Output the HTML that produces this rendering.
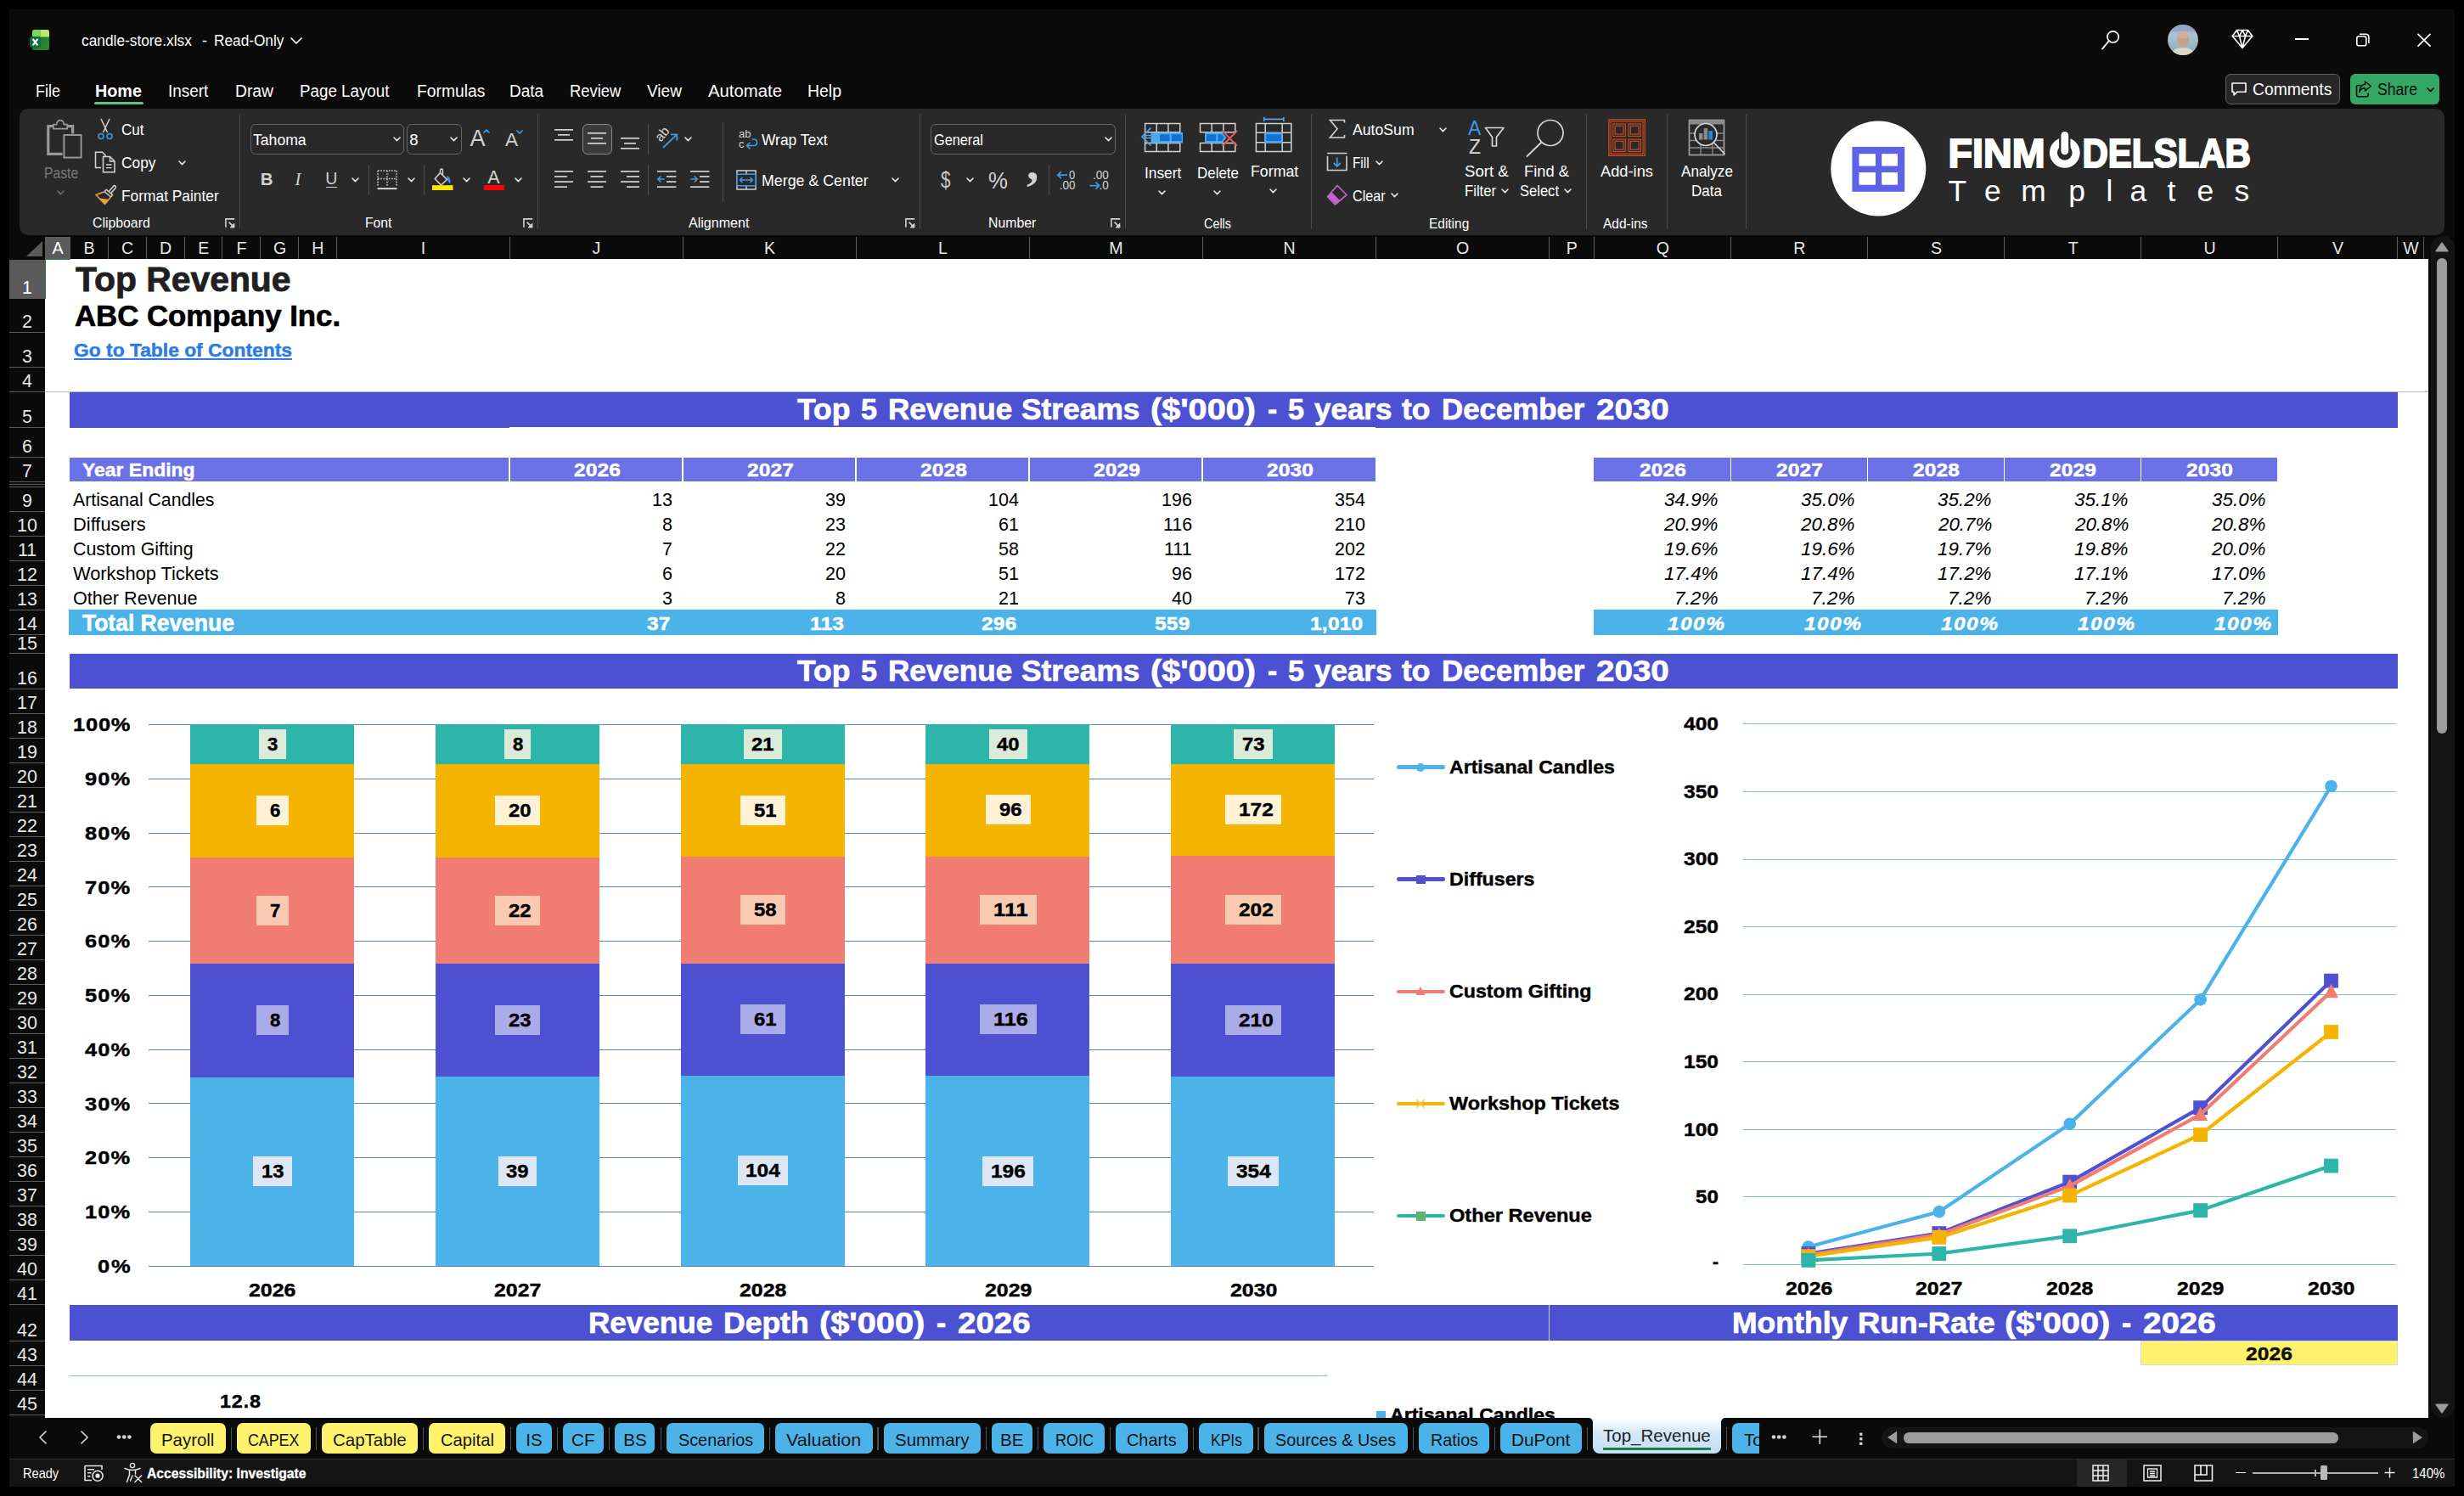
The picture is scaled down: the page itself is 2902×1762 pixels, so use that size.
<!DOCTYPE html>
<html><head><meta charset="utf-8"><title>candle-store.xlsx - Excel</title><style>html,body{margin:0;padding:0;background:#000;}
body{width:2902px;height:1762px;position:relative;overflow:hidden;font-family:"Liberation Sans",sans-serif;}
.t{position:absolute;white-space:pre;line-height:1;transform-origin:0 0;font-family:"Liberation Sans",sans-serif;}
.r{position:absolute;}
svg{overflow:visible;}
svg text{font-family:"Liberation Sans",sans-serif;}
</style></head><body>
<div class="r" style="left:11.00px;top:11.00px;width:2880.00px;height:1740.00px;background:#0a0a0a;"></div>
<svg class="r" style="left:34.00px;top:34.00px;" width="26" height="26" viewBox="0 0 26 26"><defs><linearGradient id="xg" x1="0" y1="0" x2="1" y2="1"><stop offset="0" stop-color="#1f6b2a"/><stop offset="1" stop-color="#2e8a35"/></linearGradient></defs>
<path d="M4 3.5 Q4 1 6.5 1 H21.5 Q24 1 24 3.5 V22.5 Q24 25 21.5 25 H6.5 Q4 25 4 22.5 Z" fill="url(#xg)"/>
<path d="M4 3.5 Q4 1 6.5 1 H13.5 V9.5 H4 Z" fill="#6fdc5c"/><path d="M13.5 1 H21.5 Q24 1 24 3.5 V9.5 H13.5 Z" fill="#b9e96b"/>
<rect x="1" y="9" width="13" height="13" rx="2.5" fill="#0f6b3e"/>
<path d="M4.6 11.8 L10.4 19.4 M10.4 11.8 L4.6 19.4" stroke="#fff" stroke-width="2.2"/></svg>
<div class="t" style="left:96.00px;top:39.00px;font-size:18.30px;color:#ffffff;transform:scaleX(0.9468);">candle-store.xlsx</div>
<div class="t" style="left:238.00px;top:39.00px;font-size:18.30px;color:#ffffff;">-</div>
<div class="t" style="left:252.30px;top:39.00px;font-size:18.30px;color:#ffffff;transform:scaleX(0.9431);">Read-Only</div>
<svg class="r" style="left:340.50px;top:42.50px;" width="16" height="10" viewBox="0 0 16 10"><path d="M2 2 L8.0 8 L14 2" fill="none" stroke="#fff" stroke-width="1.7" stroke-linecap="round" stroke-linejoin="round"/></svg>
<svg class="r" style="left:2470.00px;top:30.00px;" width="32" height="32" viewBox="0 0 32 32"><circle cx="18.6" cy="13.4" r="6.6" fill="none" stroke="#fff" stroke-width="1.7"/><path d="M13.8 18.2 L6 27.6" stroke="#fff" stroke-width="1.8" stroke-linecap="round"/></svg>
<svg class="r" style="left:2552.00px;top:28.00px;" width="38" height="38" viewBox="0 0 38 38"><defs><clipPath id="av"><circle cx="19" cy="19" r="18"/></clipPath><linearGradient id="avg" x1="0" y1="0" x2="0" y2="1"><stop offset="0" stop-color="#8f9fc0"/><stop offset="0.35" stop-color="#a9c4d6"/><stop offset="1" stop-color="#8aa9b0"/></linearGradient></defs>
<g clip-path="url(#av)"><rect width="38" height="38" fill="url(#avg)"/><rect y="0" width="38" height="9" fill="#93a3c9" opacity="0.8"/><path d="M4 38 Q6 28 19 28 Q32 28 34 38 Z" fill="#ddd6c8"/><ellipse cx="19" cy="18.5" rx="7" ry="9" fill="#c7a08c"/><ellipse cx="19" cy="13" rx="6.3" ry="4.5" fill="#d3ad98"/></g></svg>
<svg class="r" style="left:2627.00px;top:33.00px;" width="28" height="26" viewBox="0 0 28 26"><path d="M7.5 2.5 H20.5 L25.8 9.5 L14 23.5 L2.2 9.5 Z M2.2 9.5 H25.8 M7.5 2.5 L10.5 9.5 L14 23.5 L17.5 9.5 L20.5 2.5 M10.5 9.5 L14 2.5 L17.5 9.5" fill="none" stroke="#fff" stroke-width="1.6" stroke-linejoin="round"/></svg>
<div class="r" style="left:2703.00px;top:45.20px;width:16.00px;height:1.70px;background:#fff;"></div>
<svg class="r" style="left:2773.00px;top:37.00px;" width="20" height="20" viewBox="0 0 20 20"><rect x="2.8" y="5.8" width="11" height="11" rx="2.4" fill="none" stroke="#fff" stroke-width="1.6"/><path d="M6 3.2 H13.2 Q16.9 3.2 16.9 6.9 V14" fill="none" stroke="#fff" stroke-width="1.6"/></svg>
<svg class="r" style="left:2845.00px;top:37.00px;" width="20" height="20" viewBox="0 0 20 20"><path d="M2.5 2.8 L17.5 17.6 M17.5 2.8 L2.5 17.6" stroke="#fff" stroke-width="1.7"/></svg>
<div class="t" style="left:42.40px;top:98.00px;font-size:19.60px;color:#ffffff;transform:scaleX(0.9184);">File</div>
<div class="t" style="left:111.60px;top:98.00px;font-size:19.60px;color:#ffffff;font-weight:700;transform:scaleX(1.0083);">Home</div>
<div class="t" style="left:198.20px;top:98.00px;font-size:19.60px;color:#ffffff;transform:scaleX(0.9649);">Insert</div>
<div class="t" style="left:277.20px;top:98.00px;font-size:19.60px;color:#ffffff;transform:scaleX(0.9850);">Draw</div>
<div class="t" style="left:353.10px;top:98.00px;font-size:19.60px;color:#ffffff;transform:scaleX(0.9575);">Page Layout</div>
<div class="t" style="left:491.00px;top:98.00px;font-size:19.60px;color:#ffffff;transform:scaleX(0.9842);">Formulas</div>
<div class="t" style="left:600.40px;top:98.00px;font-size:19.60px;color:#ffffff;transform:scaleX(0.9707);">Data</div>
<div class="t" style="left:671.00px;top:98.00px;font-size:19.60px;color:#ffffff;transform:scaleX(0.9374);">Review</div>
<div class="t" style="left:762.00px;top:98.00px;font-size:19.60px;color:#ffffff;transform:scaleX(0.9720);">View</div>
<div class="t" style="left:834.00px;top:98.00px;font-size:19.60px;color:#ffffff;transform:scaleX(1.0371);">Automate</div>
<div class="t" style="left:951.00px;top:98.00px;font-size:19.60px;color:#ffffff;transform:scaleX(0.9921);">Help</div>
<div class="r" style="left:111.00px;top:120.00px;width:58.00px;height:3.00px;background:#5fbf8a;border-radius:1.5px;"></div>
<div class="r" style="left:2621.00px;top:87.20px;width:135.00px;height:35.70px;background:#272727;border:1.2px solid #5e5e5e;border-radius:6px;box-sizing:border-box;"></div>
<svg class="r" style="left:2627.00px;top:95.00px;" width="20" height="20" viewBox="0 0 20 20"><path d="M2 3 H18 V13.2 H8 L4 17 V13.2 H2 Z" fill="none" stroke="#fff" stroke-width="1.6" stroke-linejoin="round"/></svg>
<div class="t" style="left:2652.60px;top:96.00px;font-size:19.40px;color:#ffffff;transform:scaleX(0.9957);">Comments</div>
<div class="r" style="left:2768.00px;top:87.20px;width:105.00px;height:35.70px;background:#33a862;border-radius:6px;"></div>
<svg class="r" style="left:2774.00px;top:94.00px;" width="20" height="22" viewBox="0 0 20 22"><path d="M6.5 6.5 H3.2 Q1.5 6.5 1.5 8.2 V18 Q1.5 19.7 3.2 19.7 H13.5 Q15.2 19.7 15.2 18 V15.5" fill="none" stroke="#0c0c0c" stroke-width="1.6"/><path d="M11.5 2 L18.3 7.5 L11.5 13 V9.8 Q6.5 9.8 4.8 14.5 Q5 6 11.5 5.2 Z" fill="none" stroke="#0c0c0c" stroke-width="1.5" stroke-linejoin="round"/></svg>
<div class="t" style="left:2799.80px;top:96.00px;font-size:19.40px;color:#0c0c0c;transform:scaleX(0.9081);">Share</div>
<svg class="r" style="left:2856.50px;top:101.70px;" width="11" height="7.6" viewBox="0 0 11 7.6"><path d="M2 2 L5.5 5.6 L9 2" fill="none" stroke="#0c0c0c" stroke-width="1.6" stroke-linecap="round" stroke-linejoin="round"/></svg>
<div class="r" style="left:23.00px;top:128.00px;width:2856.00px;height:149.40px;background:#292929;border-radius:10px;"></div>
<svg class="r" style="left:54.00px;top:140.00px;" width="44" height="48" viewBox="0 0 44 48"><path d="M9 8.6 H2.8 V41.4 H19.5" fill="none" stroke="#999" stroke-width="3.2"/><path d="M25 8.6 H31.6 V17.5" fill="none" stroke="#999" stroke-width="3.2"/>
<path d="M8.8 11.6 V6.6 H12.6 Q13.2 1.6 17 1.6 Q20.8 1.6 21.4 6.6 H25.2 V11.6 Z" fill="#292929" stroke="#9a9a9a" stroke-width="1.7"/>
<rect x="21.4" y="19" width="20.2" height="26.6" fill="none" stroke="#9a9a9a" stroke-width="1.9"/></svg>
<div class="t" style="left:51.80px;top:195.00px;font-size:18.60px;color:#7a7a7a;transform:scaleX(0.8452);">Paste</div>
<svg class="r" style="left:66.10px;top:222.70px;" width="11" height="7.6" viewBox="0 0 11 7.6"><path d="M2 2 L5.5 5.6 L9 2" fill="none" stroke="#6a6a6a" stroke-width="1.6" stroke-linecap="round" stroke-linejoin="round"/></svg>
<svg class="r" style="left:114.00px;top:139.00px;" width="20" height="27" viewBox="0 0 20 27"><path d="M5 1 L12.5 17 M15 1 L7.5 17" stroke="#d6d6d6" stroke-width="1.5" fill="none"/><circle cx="5" cy="21.5" r="3" fill="none" stroke="#3b9ae1" stroke-width="1.6"/><circle cx="15" cy="21.5" r="3" fill="none" stroke="#3b9ae1" stroke-width="1.6"/></svg>
<div class="t" style="left:142.50px;top:144.00px;font-size:18.60px;color:#ffffff;transform:scaleX(0.9156);">Cut</div>
<svg class="r" style="left:111.00px;top:178.00px;" width="26" height="26" viewBox="0 0 26 26"><path d="M8 19.5 H1.5 V1.2 H9.5 L13 4.7 V6" fill="none" stroke="#d6d6d6" stroke-width="1.5"/><path d="M10.5 6.5 H18.5 L24 12 V24.8 H10.5 Z" fill="#292929" stroke="#d6d6d6" stroke-width="1.5"/><path d="M18.5 6.5 V12 H24" fill="none" stroke="#d6d6d6" stroke-width="1.3"/><path d="M14 16 H20.5 M14 19.7 H20.5" stroke="#d6d6d6" stroke-width="1.3"/></svg>
<div class="t" style="left:142.50px;top:183.00px;font-size:18.60px;color:#ffffff;transform:scaleX(0.9329);">Copy</div>
<svg class="r" style="left:209.30px;top:187.80px;" width="11" height="7.6" viewBox="0 0 11 7.6"><path d="M2 2 L5.5 5.6 L9 2" fill="none" stroke="#e6e6e6" stroke-width="1.6" stroke-linecap="round" stroke-linejoin="round"/></svg>
<svg class="r" style="left:111.00px;top:217.00px;" width="27" height="25" viewBox="0 0 27 25"><path d="M17.5 8.2 L22.6 2.2 Q23.8 1 25 2.2 Q26 3.4 25 4.6 L19.8 10.6" fill="none" stroke="#d6d6d6" stroke-width="1.5"/><path d="M14.2 6.3 L21.6 12.6 L19.6 15 L12.2 8.7 Z" fill="none" stroke="#d6d6d6" stroke-width="1.4"/><path d="M12.2 8.7 L2 12.5 L12.5 23.5 L19.6 15" fill="none" stroke="#e8a33d" stroke-width="1.5" stroke-linejoin="round"/><path d="M5.5 16.2 L12.5 23.5 L17 18 Z" fill="#e8a33d"/></svg>
<div class="t" style="left:142.50px;top:222.00px;font-size:18.60px;color:#ffffff;transform:scaleX(0.9333);">Format Painter</div>
<div class="t" style="left:109.00px;top:255.00px;font-size:16.80px;color:#ffffff;transform:scaleX(0.9429);">Clipboard</div>
<svg class="r" style="left:265.00px;top:257.00px;" width="12" height="12" viewBox="0 0 12 12"><path d="M0.9 10.8 V0.9 H11.2" fill="none" stroke="#d0d0d0" stroke-width="1.6"/><path d="M4.6 4.6 L10.6 10.6" fill="none" stroke="#d0d0d0" stroke-width="1.6"/><path d="M6 11 H11 V6 Z" fill="#d0d0d0" stroke="#d0d0d0" stroke-width="0.8"/></svg>
<div class="r" style="left:282.00px;top:135.00px;width:1.00px;height:134.00px;background:#4d4d4d;"></div>
<div class="r" style="left:295.00px;top:146.00px;width:180.50px;height:35.80px;background:#292929;border:1.2px solid #666;border-radius:6px;box-sizing:border-box;"></div>
<div class="t" style="left:298.30px;top:156.00px;font-size:18.60px;color:#ffffff;transform:scaleX(0.9474);">Tahoma</div>
<svg class="r" style="left:461.50px;top:160.20px;" width="11" height="7.6" viewBox="0 0 11 7.6"><path d="M2 2 L5.5 5.6 L9 2" fill="none" stroke="#e6e6e6" stroke-width="1.6" stroke-linecap="round" stroke-linejoin="round"/></svg>
<div class="r" style="left:479.00px;top:146.00px;width:64.60px;height:35.80px;background:#292929;border:1.2px solid #666;border-radius:6px;box-sizing:border-box;"></div>
<div class="t" style="left:482.30px;top:156.00px;font-size:18.60px;color:#ffffff;">8</div>
<svg class="r" style="left:529.00px;top:160.20px;" width="11" height="7.6" viewBox="0 0 11 7.6"><path d="M2 2 L5.5 5.6 L9 2" fill="none" stroke="#e6e6e6" stroke-width="1.6" stroke-linecap="round" stroke-linejoin="round"/></svg>
<div class="t" style="left:553.50px;top:150.00px;font-size:27.00px;color:#d2d2d2;">A</div>
<svg class="r" style="left:568.20px;top:150.90px;" width="10" height="7.2" viewBox="0 0 10 7.2"><path d="M2 5.2 L5.0 2 L8 5.2" fill="none" stroke="#3b9ae1" stroke-width="1.7" stroke-linecap="round" stroke-linejoin="round"/></svg>
<div class="t" style="left:595.00px;top:154.00px;font-size:22.50px;color:#d2d2d2;">A</div>
<svg class="r" style="left:607.30px;top:151.90px;" width="10" height="7.2" viewBox="0 0 10 7.2"><path d="M2 2 L5.0 5.2 L8 2" fill="none" stroke="#3b9ae1" stroke-width="1.7" stroke-linecap="round" stroke-linejoin="round"/></svg>
<div class="t" style="left:306.80px;top:201.00px;font-size:20.50px;color:#d2d2d2;font-weight:700;">B</div>
<div class="t" style="left:347.50px;top:201.00px;font-size:20.50px;color:#d2d2d2;font-style:italic;font-family:'Liberation Serif',serif;">I</div>
<div class="t" style="left:383.20px;top:201.00px;font-size:19.50px;color:#d2d2d2;">U</div>
<div class="r" style="left:383.60px;top:219.60px;width:13.00px;height:1.50px;background:#d2d2d2;"></div>
<svg class="r" style="left:413.40px;top:208.20px;" width="11" height="7.6" viewBox="0 0 11 7.6"><path d="M2 2 L5.5 5.6 L9 2" fill="none" stroke="#e6e6e6" stroke-width="1.6" stroke-linecap="round" stroke-linejoin="round"/></svg>
<div class="r" style="left:434.00px;top:194.00px;width:1.00px;height:36.00px;background:#4d4d4d;"></div>
<svg class="r" style="left:443.50px;top:199.50px;" width="24" height="24" viewBox="0 0 24 24"><path d="M1 1 H23 M1 1 V20 M23 1 V20 M12 1 V20 M1 10.5 H23" stroke="#d2d2d2" stroke-width="1.5" stroke-dasharray="1.6 1.6" fill="none"/><rect x="0.5" y="21.3" width="23" height="1.8" fill="#e8e8e8"/></svg>
<svg class="r" style="left:478.50px;top:208.20px;" width="11" height="7.6" viewBox="0 0 11 7.6"><path d="M2 2 L5.5 5.6 L9 2" fill="none" stroke="#e6e6e6" stroke-width="1.6" stroke-linecap="round" stroke-linejoin="round"/></svg>
<div class="r" style="left:498.80px;top:194.00px;width:1.00px;height:36.00px;background:#4d4d4d;"></div>
<svg class="r" style="left:509.00px;top:198.00px;" width="26" height="28" viewBox="0 0 26 28"><path d="M9.5 5.5 L17.5 13.5 L10.5 20 L3.2 12.5 Z" fill="none" stroke="#d6d6d6" stroke-width="1.5" stroke-linejoin="round"/><path d="M9.5 5.5 V2.5 Q9.5 1 11 1 Q12.5 1 12.5 2.5 V8.5" fill="none" stroke="#d6d6d6" stroke-width="1.4"/><path d="M17.8 9.5 Q21.8 11.5 20.8 17.5 Q17.8 14.5 17.8 9.5 Z" fill="#3b9ae1" stroke="#3b9ae1" stroke-width="1"/><rect x="0" y="20.2" width="24.5" height="5.8" fill="#ffe900"/></svg>
<svg class="r" style="left:543.50px;top:208.20px;" width="11" height="7.6" viewBox="0 0 11 7.6"><path d="M2 2 L5.5 5.6 L9 2" fill="none" stroke="#e6e6e6" stroke-width="1.6" stroke-linecap="round" stroke-linejoin="round"/></svg>
<div class="t" style="left:574.30px;top:199.00px;font-size:21.50px;color:#d2d2d2;">A</div>
<div class="r" style="left:569.50px;top:218.20px;width:24.50px;height:5.80px;background:#ff0000;"></div>
<svg class="r" style="left:604.50px;top:208.20px;" width="11" height="7.6" viewBox="0 0 11 7.6"><path d="M2 2 L5.5 5.6 L9 2" fill="none" stroke="#e6e6e6" stroke-width="1.6" stroke-linecap="round" stroke-linejoin="round"/></svg>
<div class="t" style="left:430.00px;top:255.00px;font-size:16.80px;color:#ffffff;transform:scaleX(0.9341);">Font</div>
<svg class="r" style="left:616.00px;top:257.00px;" width="12" height="12" viewBox="0 0 12 12"><path d="M0.9 10.8 V0.9 H11.2" fill="none" stroke="#d0d0d0" stroke-width="1.6"/><path d="M4.6 4.6 L10.6 10.6" fill="none" stroke="#d0d0d0" stroke-width="1.6"/><path d="M6 11 H11 V6 Z" fill="#d0d0d0" stroke="#d0d0d0" stroke-width="0.8"/></svg>
<div class="r" style="left:633.10px;top:135.00px;width:1.00px;height:134.00px;background:#4d4d4d;"></div>
<svg class="r" style="left:653.00px;top:152.20px;" width="22" height="18" viewBox="0 0 22 18"><rect x="0.0" y="0" width="22" height="1.7" fill="#d2d2d2"/><rect x="4.0" y="6" width="14" height="1.7" fill="#d2d2d2"/><rect x="0.0" y="12" width="22" height="1.7" fill="#d2d2d2"/></svg>
<div class="r" style="left:685.50px;top:146.00px;width:35.20px;height:35.80px;background:#3a3a3a;border:1.2px solid #8a8a8a;border-radius:6px;box-sizing:border-box;"></div>
<svg class="r" style="left:692.00px;top:156.00px;" width="22" height="18" viewBox="0 0 22 18"><rect x="0.0" y="0" width="22" height="1.7" fill="#d2d2d2"/><rect x="4.0" y="6" width="14" height="1.7" fill="#d2d2d2"/><rect x="0.0" y="12" width="22" height="1.7" fill="#d2d2d2"/></svg>
<svg class="r" style="left:731.00px;top:161.90px;" width="22" height="18" viewBox="0 0 22 18"><rect x="0.0" y="0" width="22" height="1.7" fill="#d2d2d2"/><rect x="4.0" y="6" width="14" height="1.7" fill="#d2d2d2"/><rect x="0.0" y="12" width="22" height="1.7" fill="#d2d2d2"/></svg>
<div class="r" style="left:763.40px;top:146.00px;width:1.00px;height:36.00px;background:#4d4d4d;"></div>
<svg class="r" style="left:772.00px;top:150.00px;" width="28" height="26" viewBox="0 0 28 26"><text x="0" y="0" transform="translate(6.2,17.8) rotate(-50)" font-family="Liberation Sans" font-size="15.5" fill="#d6d6d6">ab</text><path d="M8.9 24 L25 8.6 M18 8.3 L25.3 8.3 L25.3 15.6" fill="none" stroke="#3b9ae1" stroke-width="1.8"/></svg>
<svg class="r" style="left:805.00px;top:160.20px;" width="11" height="7.6" viewBox="0 0 11 7.6"><path d="M2 2 L5.5 5.6 L9 2" fill="none" stroke="#e6e6e6" stroke-width="1.6" stroke-linecap="round" stroke-linejoin="round"/></svg>
<div class="r" style="left:850.90px;top:144.00px;width:1.00px;height:94.00px;background:#4d4d4d;"></div>
<svg class="r" style="left:869.00px;top:151.00px;" width="26" height="26" viewBox="0 0 26 26"><text x="1" y="10.5" font-family="Liberation Sans" font-size="13" fill="#d6d6d6">ab</text><text x="1" y="23" font-family="Liberation Sans" font-size="13" fill="#d6d6d6">c</text><path d="M11 20.5 H19 Q22.5 20.5 22.5 16.8 Q22.5 13 19 13 H16.5 M14.5 16.8 L10.5 20.5 L14.5 24.3" fill="none" stroke="#3b9ae1" stroke-width="1.7"/></svg>
<div class="t" style="left:897.30px;top:156.00px;font-size:18.60px;color:#ffffff;transform:scaleX(0.9356);">Wrap Text</div>
<svg class="r" style="left:653.00px;top:201.00px;" width="22" height="24.4" viewBox="0 0 22 24.4"><rect x="0" y="0.0" width="22" height="1.7" fill="#d2d2d2"/><rect x="0" y="6.1" width="15" height="1.7" fill="#d2d2d2"/><rect x="0" y="12.2" width="22" height="1.7" fill="#d2d2d2"/><rect x="0" y="18.299999999999997" width="15" height="1.7" fill="#d2d2d2"/></svg>
<svg class="r" style="left:692.00px;top:201.00px;" width="22" height="24.4" viewBox="0 0 22 24.4"><rect x="0.0" y="0.0" width="22" height="1.7" fill="#d2d2d2"/><rect x="3.5" y="6.1" width="15" height="1.7" fill="#d2d2d2"/><rect x="0.0" y="12.2" width="22" height="1.7" fill="#d2d2d2"/><rect x="3.5" y="18.299999999999997" width="15" height="1.7" fill="#d2d2d2"/></svg>
<svg class="r" style="left:731.00px;top:201.00px;" width="22" height="24.4" viewBox="0 0 22 24.4"><rect x="0" y="0.0" width="22" height="1.7" fill="#d2d2d2"/><rect x="7" y="6.1" width="15" height="1.7" fill="#d2d2d2"/><rect x="0" y="12.2" width="22" height="1.7" fill="#d2d2d2"/><rect x="7" y="18.299999999999997" width="15" height="1.7" fill="#d2d2d2"/></svg>
<div class="r" style="left:763.40px;top:194.00px;width:1.00px;height:36.00px;background:#4d4d4d;"></div>
<svg class="r" style="left:774.00px;top:200.50px;" width="23" height="21" viewBox="0 0 23 21"><rect x="0" y="0" width="22.4" height="1.7" fill="#d2d2d2"/><rect x="11" y="6.1" width="11.4" height="1.7" fill="#d2d2d2"/><rect x="11" y="12.2" width="11.4" height="1.7" fill="#d2d2d2"/><rect x="0" y="18.3" width="22.4" height="1.7" fill="#d2d2d2"/><path d="M8.5 10 H1 M4.3 6.5 L0.8 10 L4.3 13.5" fill="none" stroke="#3b9ae1" stroke-width="1.7"/></svg>
<svg class="r" style="left:812.50px;top:200.50px;" width="23" height="21" viewBox="0 0 23 21"><rect x="0" y="0" width="22.4" height="1.7" fill="#d2d2d2"/><rect x="11" y="6.1" width="11.4" height="1.7" fill="#d2d2d2"/><rect x="11" y="12.2" width="11.4" height="1.7" fill="#d2d2d2"/><rect x="0" y="18.3" width="22.4" height="1.7" fill="#d2d2d2"/><path d="M0.5 10 H8 M4.7 6.5 L8.2 10 L4.7 13.5" fill="none" stroke="#3b9ae1" stroke-width="1.7"/></svg>
<svg class="r" style="left:866.50px;top:199.50px;" width="24" height="24" viewBox="0 0 24 24"><rect x="1" y="1" width="22" height="22" fill="none" stroke="#d2d2d2" stroke-width="1.5"/><path d="M12 1 V5.2 M12 18.8 V23" stroke="#d2d2d2" stroke-width="1.5"/><rect x="1" y="5.2" width="22" height="13.6" fill="#292929" stroke="#3b9ae1" stroke-width="1.6"/><path d="M4.5 12 H19.5 M7.5 9 L4.5 12 L7.5 15 M16.5 9 L19.5 12 L16.5 15" fill="none" stroke="#3b9ae1" stroke-width="1.6"/></svg>
<div class="t" style="left:897.30px;top:204.00px;font-size:18.60px;color:#ffffff;transform:scaleX(0.9574);">Merge &amp; Center</div>
<svg class="r" style="left:1048.50px;top:208.20px;" width="11" height="7.6" viewBox="0 0 11 7.6"><path d="M2 2 L5.5 5.6 L9 2" fill="none" stroke="#e6e6e6" stroke-width="1.6" stroke-linecap="round" stroke-linejoin="round"/></svg>
<div class="t" style="left:810.50px;top:255.00px;font-size:16.80px;color:#ffffff;transform:scaleX(0.9570);">Alignment</div>
<svg class="r" style="left:1066.00px;top:257.00px;" width="12" height="12" viewBox="0 0 12 12"><path d="M0.9 10.8 V0.9 H11.2" fill="none" stroke="#d0d0d0" stroke-width="1.6"/><path d="M4.6 4.6 L10.6 10.6" fill="none" stroke="#d0d0d0" stroke-width="1.6"/><path d="M6 11 H11 V6 Z" fill="#d0d0d0" stroke="#d0d0d0" stroke-width="0.8"/></svg>
<div class="r" style="left:1083.10px;top:135.00px;width:1.00px;height:134.00px;background:#4d4d4d;"></div>
<div class="r" style="left:1096.00px;top:146.00px;width:217.60px;height:35.80px;background:#292929;border:1.2px solid #666;border-radius:6px;box-sizing:border-box;"></div>
<div class="t" style="left:1099.50px;top:156.00px;font-size:18.60px;color:#ffffff;transform:scaleX(0.8764);">General</div>
<svg class="r" style="left:1299.50px;top:160.20px;" width="11" height="7.6" viewBox="0 0 11 7.6"><path d="M2 2 L5.5 5.6 L9 2" fill="none" stroke="#e6e6e6" stroke-width="1.6" stroke-linecap="round" stroke-linejoin="round"/></svg>
<div class="t" style="left:1108.00px;top:198.00px;font-size:28.00px;color:#c8c8c8;transform:scaleX(0.7400);">$</div>
<svg class="r" style="left:1136.50px;top:208.20px;" width="11" height="7.6" viewBox="0 0 11 7.6"><path d="M2 2 L5.5 5.6 L9 2" fill="none" stroke="#e6e6e6" stroke-width="1.6" stroke-linecap="round" stroke-linejoin="round"/></svg>
<div class="t" style="left:1163.50px;top:198.00px;font-size:28.50px;color:#d2d2d2;transform:scaleX(0.9038);">%</div>
<div class="t" style="left:1209.00px;top:163.00px;font-size:58.00px;color:#d2d2d2;font-weight:700;font-family:'Liberation Serif',serif;">,</div>
<div class="r" style="left:1235.00px;top:194.00px;width:1.00px;height:36.00px;background:#4d4d4d;"></div>
<svg class="r" style="left:1244.00px;top:199.00px;" width="26" height="26" viewBox="0 0 26 26"><text x="15" y="12" font-family="Liberation Sans" font-size="14.6" textLength="7.2" lengthAdjust="spacingAndGlyphs" fill="#d6d6d6">0</text><text x="3.8" y="24.3" font-family="Liberation Sans" font-size="14.6" textLength="18.8" lengthAdjust="spacingAndGlyphs" fill="#d6d6d6">.00</text><path d="M13 7.2 H2 M5.8 3.2 L1.8 7.2 L5.8 11.2" fill="none" stroke="#3b9ae1" stroke-width="1.7"/></svg>
<svg class="r" style="left:1282.00px;top:199.00px;" width="26" height="26" viewBox="0 0 26 26"><text x="5" y="12" font-family="Liberation Sans" font-size="14.6" textLength="18.8" lengthAdjust="spacingAndGlyphs" fill="#d6d6d6">.00</text><text x="12.6" y="24.3" font-family="Liberation Sans" font-size="14.6" textLength="11.2" lengthAdjust="spacingAndGlyphs" fill="#d6d6d6">.0</text><path d="M1.5 19.6 H12.4 M8.6 15.6 L12.6 19.6 L8.6 23.6" fill="none" stroke="#3b9ae1" stroke-width="1.7"/></svg>
<div class="t" style="left:1163.60px;top:255.00px;font-size:16.80px;color:#ffffff;transform:scaleX(0.9438);">Number</div>
<svg class="r" style="left:1308.00px;top:257.00px;" width="12" height="12" viewBox="0 0 12 12"><path d="M0.9 10.8 V0.9 H11.2" fill="none" stroke="#d0d0d0" stroke-width="1.6"/><path d="M4.6 4.6 L10.6 10.6" fill="none" stroke="#d0d0d0" stroke-width="1.6"/><path d="M6 11 H11 V6 Z" fill="#d0d0d0" stroke="#d0d0d0" stroke-width="0.8"/></svg>
<div class="r" style="left:1325.20px;top:135.00px;width:1.00px;height:134.00px;background:#4d4d4d;"></div>
<svg class="r" style="left:1344.00px;top:144.00px;" width="50" height="36" viewBox="0 0 50 36"><path d="M4.6 1.5 H45.8 V34.4 H4.6 Z M4.6 11.8 H45.8 M4.6 24.4 H45.8 M18.2 1.5 V34.4 M31.9 1.5 V34.4" stroke="#d2d2d2" stroke-width="1.5" fill="none"/><rect x="11.5" y="12" width="37.5" height="12.4" fill="#4fa9f0"/><rect x="22" y="14.2" width="11.6" height="7.8" fill="#1571d1"/><rect x="35.8" y="14.2" width="11.9" height="7.8" fill="#1571d1"/><path d="M11.4 6.6 L1 17 L11.4 27.4" fill="none" stroke="#4fa3e8" stroke-width="1.7"/><path d="M3 15.5 H21 M3 18.5 H21" stroke="#4fa3e8" stroke-width="1.3"/></svg>
<div class="t" style="left:1347.70px;top:195.00px;font-size:18.60px;color:#ffffff;transform:scaleX(0.9308);">Insert</div>
<svg class="r" style="left:1362.50px;top:222.70px;" width="11" height="7.6" viewBox="0 0 11 7.6"><path d="M2 2 L5.5 5.6 L9 2" fill="none" stroke="#e6e6e6" stroke-width="1.6" stroke-linecap="round" stroke-linejoin="round"/></svg>
<svg class="r" style="left:1411.00px;top:144.00px;" width="50" height="36" viewBox="0 0 50 36"><path d="M2.5 1.5 H43.8 V11.8 H2.5 Z M2.5 24.4 H43.8 V34.4 H2.5 Z M16.2 1.5 V11.8 M29.9 1.5 V11.8 M16.2 24.4 V34.4 M29.9 24.4 V34.4" stroke="#d2d2d2" stroke-width="1.5" fill="none"/><path d="M8 12 H28.5 L33.5 18.2 L28.5 24.4 H8 Z" fill="#4fa9f0"/><rect x="9.8" y="14.2" width="11.4" height="7.8" fill="#1571d1"/><path d="M23.3 14.2 H28 L31 18.1 L28 22 H23.3 Z" fill="#1571d1"/><path d="M28.6 10 L46 27.8 M46 10 L28.6 27.8" stroke="#e35b5b" stroke-width="2"/></svg>
<div class="t" style="left:1410.00px;top:195.00px;font-size:18.60px;color:#ffffff;transform:scaleX(0.9112);">Delete</div>
<svg class="r" style="left:1427.50px;top:222.70px;" width="11" height="7.6" viewBox="0 0 11 7.6"><path d="M2 2 L5.5 5.6 L9 2" fill="none" stroke="#e6e6e6" stroke-width="1.6" stroke-linecap="round" stroke-linejoin="round"/></svg>
<svg class="r" style="left:1477.00px;top:136.00px;" width="46" height="44" viewBox="0 0 46 44"><path d="M2.4 9.4 H43.8 V42.5 H2.4 Z M2.4 20.2 H43.8 M2.4 31.7 H43.8 M13.2 9.4 V42.5 M33.2 9.4 V42.5" stroke="#d2d2d2" stroke-width="1.5" fill="none"/><rect x="12.3" y="20" width="21.5" height="12.4" fill="#4fa9f0"/><rect x="14.3" y="22.2" width="17.5" height="8" fill="#1571d1"/><path d="M11.8 4.4 H34.8 M11.8 2 V6.9 M34.8 2 V6.9" stroke="#4fa3e8" stroke-width="1.7" fill="none"/></svg>
<div class="t" style="left:1472.70px;top:193.00px;font-size:18.60px;color:#ffffff;transform:scaleX(0.9558);">Format</div>
<svg class="r" style="left:1493.50px;top:220.70px;" width="11" height="7.6" viewBox="0 0 11 7.6"><path d="M2 2 L5.5 5.6 L9 2" fill="none" stroke="#e6e6e6" stroke-width="1.6" stroke-linecap="round" stroke-linejoin="round"/></svg>
<div class="t" style="left:1418.00px;top:256.00px;font-size:16.80px;color:#ffffff;transform:scaleX(0.8568);">Cells</div>
<div class="r" style="left:1544.00px;top:135.00px;width:1.00px;height:134.00px;background:#4d4d4d;"></div>
<svg class="r" style="left:1564.00px;top:140.00px;" width="22" height="24" viewBox="0 0 22 24"><path d="M19.5 4.5 V1.5 H2.5 L11 11.7 L2.5 22 H19.5 V19" fill="none" stroke="#d6d6d6" stroke-width="1.6" stroke-linejoin="miter"/></svg>
<div class="t" style="left:1593.40px;top:144.00px;font-size:18.60px;color:#ffffff;transform:scaleX(0.9490);">AutoSum</div>
<svg class="r" style="left:1693.50px;top:148.70px;" width="11" height="7.6" viewBox="0 0 11 7.6"><path d="M2 2 L5.5 5.6 L9 2" fill="none" stroke="#e6e6e6" stroke-width="1.6" stroke-linecap="round" stroke-linejoin="round"/></svg>
<svg class="r" style="left:1562.00px;top:179.00px;" width="26" height="24" viewBox="0 0 26 24"><path d="M1.5 4.8 V21.5 H24 V4.8 M1 1.5 H24.5" fill="none" stroke="#d2d2d2" stroke-width="1.6"/><path d="M12.7 6.5 V17 M8.7 13 L12.7 17 L16.7 13" fill="none" stroke="#3b9ae1" stroke-width="1.8"/></svg>
<div class="t" style="left:1593.40px;top:183.00px;font-size:18.60px;color:#ffffff;transform:scaleX(0.8252);">Fill</div>
<svg class="r" style="left:1618.50px;top:187.80px;" width="11" height="7.6" viewBox="0 0 11 7.6"><path d="M2 2 L5.5 5.6 L9 2" fill="none" stroke="#e6e6e6" stroke-width="1.6" stroke-linecap="round" stroke-linejoin="round"/></svg>
<svg class="r" style="left:1561.00px;top:216.00px;" width="28" height="28" viewBox="0 0 28 28"><path d="M14 2.5 L25 13.5 L11.5 25 L2.5 15.5 Z" fill="none" stroke="#c163cf" stroke-width="1.7" stroke-linejoin="round"/><path d="M7.7 10.5 L17.2 20.2 L11.5 25 L2.5 15.5 Z" fill="#c163cf"/></svg>
<div class="t" style="left:1593.40px;top:222.00px;font-size:18.60px;color:#ffffff;transform:scaleX(0.8683);">Clear</div>
<svg class="r" style="left:1636.50px;top:226.20px;" width="11" height="7.6" viewBox="0 0 11 7.6"><path d="M2 2 L5.5 5.6 L9 2" fill="none" stroke="#e6e6e6" stroke-width="1.6" stroke-linecap="round" stroke-linejoin="round"/></svg>
<svg class="r" style="left:1728.00px;top:139.00px;" width="46" height="44" viewBox="0 0 46 44"><text x="1" y="20" font-family="Liberation Sans" font-size="23" fill="#3b9ae1">A</text><text x="2" y="42" font-family="Liberation Sans" font-size="23" fill="#d6d6d6">Z</text><path d="M21.5 11.5 H43 L34.5 22.5 V33 H29.5 V22.5 Z" fill="none" stroke="#d6d6d6" stroke-width="1.7" stroke-linejoin="round"/></svg>
<div class="t" style="left:1725.00px;top:193.00px;font-size:18.60px;color:#ffffff;transform:scaleX(1.0021);">Sort &amp;</div>
<div class="t" style="left:1724.50px;top:216.00px;font-size:18.60px;color:#ffffff;transform:scaleX(0.8977);">Filter</div>
<svg class="r" style="left:1766.50px;top:220.70px;" width="11" height="7.6" viewBox="0 0 11 7.6"><path d="M2 2 L5.5 5.6 L9 2" fill="none" stroke="#e6e6e6" stroke-width="1.6" stroke-linecap="round" stroke-linejoin="round"/></svg>
<svg class="r" style="left:1796.00px;top:139.00px;" width="48" height="48" viewBox="0 0 48 48"><circle cx="30" cy="17.5" r="15" fill="none" stroke="#d6d6d6" stroke-width="1.7"/><path d="M19.5 28.5 L2.5 45" stroke="#d6d6d6" stroke-width="1.8" stroke-linecap="round"/></svg>
<div class="t" style="left:1795.00px;top:193.00px;font-size:18.60px;color:#ffffff;transform:scaleX(0.9860);">Find &amp;</div>
<div class="t" style="left:1790.00px;top:216.00px;font-size:18.60px;color:#ffffff;transform:scaleX(0.8899);">Select</div>
<svg class="r" style="left:1840.50px;top:220.70px;" width="11" height="7.6" viewBox="0 0 11 7.6"><path d="M2 2 L5.5 5.6 L9 2" fill="none" stroke="#e6e6e6" stroke-width="1.6" stroke-linecap="round" stroke-linejoin="round"/></svg>
<div class="t" style="left:1682.50px;top:256.00px;font-size:16.80px;color:#ffffff;transform:scaleX(0.9207);">Editing</div>
<div class="r" style="left:1867.90px;top:135.00px;width:1.00px;height:134.00px;background:#4d4d4d;"></div>
<svg class="r" style="left:1894.00px;top:140.00px;" width="44" height="44" viewBox="0 0 44 44"><rect x="0.9" y="0.9" width="42.4" height="42.4" fill="none" stroke="#cf4a1f" stroke-width="1.3"/><rect x="3.1" y="3.1" width="38" height="38" fill="none" stroke="#cf4a1f" stroke-width="1.1"/><rect x="5.9" y="6.0" width="14.4" height="14.4" fill="none" stroke="#cf4a1f" stroke-width="1.15"/><rect x="8.2" y="8.3" width="9.8" height="9.8" fill="none" stroke="#cf4a1f" stroke-width="1.15"/><rect x="5.9" y="24.1" width="14.4" height="14.4" fill="none" stroke="#cf4a1f" stroke-width="1.15"/><rect x="8.2" y="26.400000000000002" width="9.8" height="9.8" fill="none" stroke="#cf4a1f" stroke-width="1.15"/><rect x="24.0" y="6.0" width="14.4" height="14.4" fill="none" stroke="#cf4a1f" stroke-width="1.15"/><rect x="26.3" y="8.3" width="9.8" height="9.8" fill="none" stroke="#cf4a1f" stroke-width="1.15"/><rect x="24.0" y="24.1" width="14.4" height="14.4" fill="none" stroke="#cf4a1f" stroke-width="1.15"/><rect x="26.3" y="26.400000000000002" width="9.8" height="9.8" fill="none" stroke="#cf4a1f" stroke-width="1.15"/></svg>
<div class="t" style="left:1885.00px;top:193.00px;font-size:18.60px;color:#ffffff;transform:scaleX(0.9830);">Add-ins</div>
<div class="t" style="left:1888.40px;top:256.00px;font-size:16.80px;color:#ffffff;transform:scaleX(0.9233);">Add-ins</div>
<div class="r" style="left:1962.90px;top:135.00px;width:1.00px;height:134.00px;background:#4d4d4d;"></div>
<svg class="r" style="left:1988.00px;top:140.00px;" width="46" height="46" viewBox="0 0 46 46"><rect x="1.5" y="1.5" width="41" height="41" fill="none" stroke="#a8a8a8" stroke-width="1.6"/><rect x="1.5" y="1.5" width="41" height="5" fill="#8a8a8a"/><path d="M1.5 17 H42.5 M1.5 25.5 H42.5 M1.5 34 H42.5 M15 6.5 V42.5 M29 6.5 V42.5" stroke="#8a8a8a" stroke-width="1.3"/><circle cx="21" cy="18.5" r="13" fill="#292929" stroke="#d6d6d6" stroke-width="1.7"/><rect x="13" y="17" width="4.5" height="7.5" fill="#8a8a8a"/><rect x="18.7" y="11" width="4.5" height="13.5" fill="#8a8a8a"/><rect x="24.4" y="14" width="4.5" height="10.5" fill="#2b88d8"/><path d="M30.5 28 L43.5 41.5" stroke="#d6d6d6" stroke-width="1.8"/></svg>
<div class="t" style="left:1980.00px;top:193.00px;font-size:18.60px;color:#ffffff;transform:scaleX(0.9217);">Analyze</div>
<div class="t" style="left:1992.00px;top:216.00px;font-size:18.60px;color:#ffffff;transform:scaleX(0.9160);">Data</div>
<div class="r" style="left:2055.90px;top:135.00px;width:1.00px;height:134.00px;background:#4d4d4d;"></div>
<svg class="r" style="left:2150.00px;top:136.00px;" width="130" height="125" viewBox="0 0 130 125"><circle cx="62.3" cy="62.5" r="56" fill="#fff"/><rect x="31.4" y="37" width="61.8" height="52.8" fill="#5c63ea"/><rect x="39.5" y="45.2" width="19.5" height="14.3" fill="#fff"/><rect x="66.2" y="45.2" width="18.8" height="14.3" fill="#fff"/><rect x="39.5" y="67" width="19.5" height="14.7" fill="#fff"/><rect x="66.2" y="67" width="18.8" height="14.7" fill="#fff"/></svg>
<svg class="r" style="left:2280.00px;top:130.00px;" width="400" height="130" viewBox="0 0 400 130"><g fill="#fff" stroke="#fff" stroke-width="2.1" font-family="Liberation Sans" font-weight="700" font-size="48.4">
<text x="14.6" y="66.7" textLength="114" lengthAdjust="spacingAndGlyphs">FINM</text>
<text x="172.4" y="66.7" textLength="198.6" lengthAdjust="spacingAndGlyphs">DELSLAB</text></g>
<circle cx="151.8" cy="49.8" r="13.4" fill="none" stroke="#fff" stroke-width="9"/>
<path d="M151.8 29.3 V47.8" stroke="#292929" stroke-width="13.4" stroke-linecap="round"/>
<path d="M151.8 29.3 V47.8" stroke="#fff" stroke-width="8.8" stroke-linecap="round"/>
<text font-family="Liberation Sans" font-size="35.4" fill="#fff" y="106.9" x="14.4 57 100.3 156.3 200.6 228.6 272.4 307.6 351.6">Templates</text></svg>
<div class="r" style="left:53.00px;top:305.00px;width:2807.30px;height:1365.00px;background:#fff;"></div>
<div class="r" style="left:11.00px;top:278.00px;width:2850.00px;height:27.00px;background:#0a0a0a;"></div>
<svg class="r" style="left:28.00px;top:283.00px;" width="24" height="20" viewBox="0 0 24 20"><path d="M22 1 V19 H3 Z" fill="#5a5a5a"/></svg>
<div class="r" style="left:54.00px;top:278.50px;width:27.50px;height:26.50px;background:#5a5a5a;"></div>
<div class="t" style="left:61.46px;top:283.00px;font-size:19.60px;color:#fff;">A</div>
<div class="r" style="left:81.50px;top:279.00px;width:1.00px;height:26.00px;background:#5c5c5c;"></div>
<div class="t" style="left:98.46px;top:283.00px;font-size:19.60px;color:#e6e6e6;">B</div>
<div class="r" style="left:126.50px;top:279.00px;width:1.00px;height:26.00px;background:#5c5c5c;"></div>
<div class="t" style="left:142.92px;top:283.00px;font-size:19.60px;color:#e6e6e6;">C</div>
<div class="r" style="left:171.50px;top:279.00px;width:1.00px;height:26.00px;background:#5c5c5c;"></div>
<div class="t" style="left:187.92px;top:283.00px;font-size:19.60px;color:#e6e6e6;">D</div>
<div class="r" style="left:216.50px;top:279.00px;width:1.00px;height:26.00px;background:#5c5c5c;"></div>
<div class="t" style="left:233.21px;top:283.00px;font-size:19.60px;color:#e6e6e6;">E</div>
<div class="r" style="left:261.00px;top:279.00px;width:1.00px;height:26.00px;background:#5c5c5c;"></div>
<div class="t" style="left:278.51px;top:283.00px;font-size:19.60px;color:#e6e6e6;">F</div>
<div class="r" style="left:306.00px;top:279.00px;width:1.00px;height:26.00px;background:#5c5c5c;"></div>
<div class="t" style="left:321.88px;top:283.00px;font-size:19.60px;color:#e6e6e6;">G</div>
<div class="r" style="left:351.00px;top:279.00px;width:1.00px;height:26.00px;background:#5c5c5c;"></div>
<div class="t" style="left:367.17px;top:283.00px;font-size:19.60px;color:#e6e6e6;">H</div>
<div class="r" style="left:395.50px;top:279.00px;width:1.00px;height:26.00px;background:#5c5c5c;"></div>
<div class="t" style="left:495.78px;top:283.00px;font-size:19.60px;color:#e6e6e6;">I</div>
<div class="r" style="left:599.50px;top:279.00px;width:1.00px;height:26.00px;background:#5c5c5c;"></div>
<div class="t" style="left:697.60px;top:283.00px;font-size:19.60px;color:#e6e6e6;">J</div>
<div class="r" style="left:803.50px;top:279.00px;width:1.00px;height:26.00px;background:#5c5c5c;"></div>
<div class="t" style="left:899.96px;top:283.00px;font-size:19.60px;color:#e6e6e6;">K</div>
<div class="r" style="left:1007.50px;top:279.00px;width:1.00px;height:26.00px;background:#5c5c5c;"></div>
<div class="t" style="left:1105.05px;top:283.00px;font-size:19.60px;color:#e6e6e6;">L</div>
<div class="r" style="left:1211.50px;top:279.00px;width:1.00px;height:26.00px;background:#5c5c5c;"></div>
<div class="t" style="left:1306.34px;top:283.00px;font-size:19.60px;color:#e6e6e6;">M</div>
<div class="r" style="left:1415.50px;top:279.00px;width:1.00px;height:26.00px;background:#5c5c5c;"></div>
<div class="t" style="left:1511.42px;top:283.00px;font-size:19.60px;color:#e6e6e6;">N</div>
<div class="r" style="left:1619.50px;top:279.00px;width:1.00px;height:26.00px;background:#5c5c5c;"></div>
<div class="t" style="left:1715.03px;top:283.00px;font-size:19.60px;color:#e6e6e6;">O</div>
<div class="r" style="left:1823.80px;top:279.00px;width:1.00px;height:26.00px;background:#5c5c5c;"></div>
<div class="t" style="left:1844.81px;top:283.00px;font-size:19.60px;color:#e6e6e6;">P</div>
<div class="r" style="left:1876.90px;top:279.00px;width:1.00px;height:26.00px;background:#5c5c5c;"></div>
<div class="t" style="left:1950.78px;top:283.00px;font-size:19.60px;color:#e6e6e6;">Q</div>
<div class="r" style="left:2037.90px;top:279.00px;width:1.00px;height:26.00px;background:#5c5c5c;"></div>
<div class="t" style="left:2112.37px;top:283.00px;font-size:19.60px;color:#e6e6e6;">R</div>
<div class="r" style="left:2199.00px;top:279.00px;width:1.00px;height:26.00px;background:#5c5c5c;"></div>
<div class="t" style="left:2274.01px;top:283.00px;font-size:19.60px;color:#e6e6e6;">S</div>
<div class="r" style="left:2360.10px;top:279.00px;width:1.00px;height:26.00px;background:#5c5c5c;"></div>
<div class="t" style="left:2435.66px;top:283.00px;font-size:19.60px;color:#e6e6e6;">T</div>
<div class="r" style="left:2521.20px;top:279.00px;width:1.00px;height:26.00px;background:#5c5c5c;"></div>
<div class="t" style="left:2595.47px;top:283.00px;font-size:19.60px;color:#e6e6e6;">U</div>
<div class="r" style="left:2681.90px;top:279.00px;width:1.00px;height:26.00px;background:#5c5c5c;"></div>
<div class="t" style="left:2746.96px;top:283.00px;font-size:19.60px;color:#e6e6e6;">V</div>
<div class="r" style="left:2823.10px;top:279.00px;width:1.00px;height:26.00px;background:#5c5c5c;"></div>
<div class="t" style="left:2830.35px;top:283.00px;font-size:19.60px;color:#e6e6e6;">W</div>
<div class="r" style="left:2854.10px;top:279.00px;width:1.00px;height:26.00px;background:#5c5c5c;"></div>
<div class="r" style="left:52.50px;top:279.00px;width:1.00px;height:26.00px;background:#5c5c5c;"></div>
<div class="r" style="left:11.00px;top:305.00px;width:42.00px;height:1365.00px;background:#0a0a0a;"></div>
<div class="r" style="left:11.00px;top:305.50px;width:42.00px;height:45.50px;background:#5a5a5a;"></div>
<div class="t" style="left:26.05px;top:329.00px;font-size:21.40px;color:#fff;">1</div>
<div class="r" style="left:11.00px;top:350.50px;width:42.00px;height:1.00px;background:#5c5c5c;"></div>
<div class="t" style="left:26.05px;top:369.00px;font-size:21.40px;color:#e6e6e6;">2</div>
<div class="r" style="left:11.00px;top:390.70px;width:42.00px;height:1.00px;background:#5c5c5c;"></div>
<div class="t" style="left:26.05px;top:410.00px;font-size:21.40px;color:#e6e6e6;">3</div>
<div class="r" style="left:11.00px;top:431.70px;width:42.00px;height:1.00px;background:#5c5c5c;"></div>
<div class="t" style="left:26.05px;top:439.00px;font-size:21.40px;color:#e6e6e6;">4</div>
<div class="r" style="left:11.00px;top:460.70px;width:42.00px;height:1.00px;background:#5c5c5c;"></div>
<div class="t" style="left:26.05px;top:481.00px;font-size:21.40px;color:#e6e6e6;">5</div>
<div class="r" style="left:11.00px;top:503.10px;width:42.00px;height:1.00px;background:#5c5c5c;"></div>
<div class="t" style="left:26.05px;top:516.00px;font-size:21.40px;color:#e6e6e6;">6</div>
<div class="r" style="left:11.00px;top:537.90px;width:42.00px;height:1.00px;background:#5c5c5c;"></div>
<div class="t" style="left:26.05px;top:545.00px;font-size:21.40px;color:#e6e6e6;">7</div>
<div class="r" style="left:11.00px;top:566.70px;width:42.00px;height:1.00px;background:#5c5c5c;"></div>
<div class="t" style="left:26.05px;top:580.00px;font-size:21.40px;color:#e6e6e6;">9</div>
<div class="r" style="left:11.00px;top:601.60px;width:42.00px;height:1.00px;background:#5c5c5c;"></div>
<div class="t" style="left:20.10px;top:609.00px;font-size:21.40px;color:#e6e6e6;">10</div>
<div class="r" style="left:11.00px;top:630.72px;width:42.00px;height:1.00px;background:#5c5c5c;"></div>
<div class="t" style="left:20.89px;top:638.00px;font-size:21.40px;color:#e6e6e6;">11</div>
<div class="r" style="left:11.00px;top:659.74px;width:42.00px;height:1.00px;background:#5c5c5c;"></div>
<div class="t" style="left:20.10px;top:667.00px;font-size:21.40px;color:#e6e6e6;">12</div>
<div class="r" style="left:11.00px;top:688.76px;width:42.00px;height:1.00px;background:#5c5c5c;"></div>
<div class="t" style="left:20.10px;top:696.00px;font-size:21.40px;color:#e6e6e6;">13</div>
<div class="r" style="left:11.00px;top:717.78px;width:42.00px;height:1.00px;background:#5c5c5c;"></div>
<div class="t" style="left:20.10px;top:725.00px;font-size:21.40px;color:#e6e6e6;">14</div>
<div class="r" style="left:11.00px;top:746.80px;width:42.00px;height:1.00px;background:#5c5c5c;"></div>
<div class="t" style="left:20.10px;top:748.00px;font-size:21.40px;color:#e6e6e6;">15</div>
<div class="r" style="left:11.00px;top:768.50px;width:42.00px;height:1.00px;background:#5c5c5c;"></div>
<div class="t" style="left:20.10px;top:789.00px;font-size:21.40px;color:#e6e6e6;">16</div>
<div class="r" style="left:11.00px;top:810.60px;width:42.00px;height:1.00px;background:#5c5c5c;"></div>
<div class="t" style="left:20.10px;top:818.00px;font-size:21.40px;color:#e6e6e6;">17</div>
<div class="r" style="left:11.00px;top:839.62px;width:42.00px;height:1.00px;background:#5c5c5c;"></div>
<div class="t" style="left:20.10px;top:847.00px;font-size:21.40px;color:#e6e6e6;">18</div>
<div class="r" style="left:11.00px;top:868.63px;width:42.00px;height:1.00px;background:#5c5c5c;"></div>
<div class="t" style="left:20.10px;top:876.00px;font-size:21.40px;color:#e6e6e6;">19</div>
<div class="r" style="left:11.00px;top:897.65px;width:42.00px;height:1.00px;background:#5c5c5c;"></div>
<div class="t" style="left:20.10px;top:905.00px;font-size:21.40px;color:#e6e6e6;">20</div>
<div class="r" style="left:11.00px;top:926.66px;width:42.00px;height:1.00px;background:#5c5c5c;"></div>
<div class="t" style="left:20.10px;top:934.00px;font-size:21.40px;color:#e6e6e6;">21</div>
<div class="r" style="left:11.00px;top:955.68px;width:42.00px;height:1.00px;background:#5c5c5c;"></div>
<div class="t" style="left:20.10px;top:963.00px;font-size:21.40px;color:#e6e6e6;">22</div>
<div class="r" style="left:11.00px;top:984.70px;width:42.00px;height:1.00px;background:#5c5c5c;"></div>
<div class="t" style="left:20.10px;top:992.00px;font-size:21.40px;color:#e6e6e6;">23</div>
<div class="r" style="left:11.00px;top:1013.71px;width:42.00px;height:1.00px;background:#5c5c5c;"></div>
<div class="t" style="left:20.10px;top:1021.00px;font-size:21.40px;color:#e6e6e6;">24</div>
<div class="r" style="left:11.00px;top:1042.73px;width:42.00px;height:1.00px;background:#5c5c5c;"></div>
<div class="t" style="left:20.10px;top:1050.00px;font-size:21.40px;color:#e6e6e6;">25</div>
<div class="r" style="left:11.00px;top:1071.74px;width:42.00px;height:1.00px;background:#5c5c5c;"></div>
<div class="t" style="left:20.10px;top:1079.00px;font-size:21.40px;color:#e6e6e6;">26</div>
<div class="r" style="left:11.00px;top:1100.76px;width:42.00px;height:1.00px;background:#5c5c5c;"></div>
<div class="t" style="left:20.10px;top:1108.00px;font-size:21.40px;color:#e6e6e6;">27</div>
<div class="r" style="left:11.00px;top:1129.78px;width:42.00px;height:1.00px;background:#5c5c5c;"></div>
<div class="t" style="left:20.10px;top:1137.00px;font-size:21.40px;color:#e6e6e6;">28</div>
<div class="r" style="left:11.00px;top:1158.79px;width:42.00px;height:1.00px;background:#5c5c5c;"></div>
<div class="t" style="left:20.10px;top:1166.00px;font-size:21.40px;color:#e6e6e6;">29</div>
<div class="r" style="left:11.00px;top:1187.81px;width:42.00px;height:1.00px;background:#5c5c5c;"></div>
<div class="t" style="left:20.10px;top:1195.00px;font-size:21.40px;color:#e6e6e6;">30</div>
<div class="r" style="left:11.00px;top:1216.82px;width:42.00px;height:1.00px;background:#5c5c5c;"></div>
<div class="t" style="left:20.10px;top:1224.00px;font-size:21.40px;color:#e6e6e6;">31</div>
<div class="r" style="left:11.00px;top:1245.84px;width:42.00px;height:1.00px;background:#5c5c5c;"></div>
<div class="t" style="left:20.10px;top:1253.00px;font-size:21.40px;color:#e6e6e6;">32</div>
<div class="r" style="left:11.00px;top:1274.86px;width:42.00px;height:1.00px;background:#5c5c5c;"></div>
<div class="t" style="left:20.10px;top:1282.00px;font-size:21.40px;color:#e6e6e6;">33</div>
<div class="r" style="left:11.00px;top:1303.87px;width:42.00px;height:1.00px;background:#5c5c5c;"></div>
<div class="t" style="left:20.10px;top:1311.00px;font-size:21.40px;color:#e6e6e6;">34</div>
<div class="r" style="left:11.00px;top:1332.89px;width:42.00px;height:1.00px;background:#5c5c5c;"></div>
<div class="t" style="left:20.10px;top:1340.00px;font-size:21.40px;color:#e6e6e6;">35</div>
<div class="r" style="left:11.00px;top:1361.90px;width:42.00px;height:1.00px;background:#5c5c5c;"></div>
<div class="t" style="left:20.10px;top:1369.00px;font-size:21.40px;color:#e6e6e6;">36</div>
<div class="r" style="left:11.00px;top:1390.92px;width:42.00px;height:1.00px;background:#5c5c5c;"></div>
<div class="t" style="left:20.10px;top:1398.00px;font-size:21.40px;color:#e6e6e6;">37</div>
<div class="r" style="left:11.00px;top:1419.94px;width:42.00px;height:1.00px;background:#5c5c5c;"></div>
<div class="t" style="left:20.10px;top:1427.00px;font-size:21.40px;color:#e6e6e6;">38</div>
<div class="r" style="left:11.00px;top:1448.95px;width:42.00px;height:1.00px;background:#5c5c5c;"></div>
<div class="t" style="left:20.10px;top:1456.00px;font-size:21.40px;color:#e6e6e6;">39</div>
<div class="r" style="left:11.00px;top:1477.97px;width:42.00px;height:1.00px;background:#5c5c5c;"></div>
<div class="t" style="left:20.10px;top:1485.00px;font-size:21.40px;color:#e6e6e6;">40</div>
<div class="r" style="left:11.00px;top:1506.98px;width:42.00px;height:1.00px;background:#5c5c5c;"></div>
<div class="t" style="left:20.10px;top:1514.00px;font-size:21.40px;color:#e6e6e6;">41</div>
<div class="r" style="left:11.00px;top:1536.00px;width:42.00px;height:1.00px;background:#5c5c5c;"></div>
<div class="t" style="left:20.10px;top:1557.00px;font-size:21.40px;color:#e6e6e6;">42</div>
<div class="r" style="left:11.00px;top:1578.80px;width:42.00px;height:1.00px;background:#5c5c5c;"></div>
<div class="t" style="left:20.10px;top:1586.00px;font-size:21.40px;color:#e6e6e6;">43</div>
<div class="r" style="left:11.00px;top:1607.80px;width:42.00px;height:1.00px;background:#5c5c5c;"></div>
<div class="t" style="left:20.10px;top:1615.00px;font-size:21.40px;color:#e6e6e6;">44</div>
<div class="r" style="left:11.00px;top:1636.80px;width:42.00px;height:1.00px;background:#5c5c5c;"></div>
<div class="t" style="left:20.10px;top:1644.00px;font-size:21.40px;color:#e6e6e6;">45</div>
<div class="r" style="left:11.00px;top:1665.80px;width:42.00px;height:1.00px;background:#5c5c5c;"></div>
<div class="r" style="left:11.00px;top:572.60px;width:42.00px;height:1.00px;background:#5c5c5c;"></div>
<div class="r" style="left:11.00px;top:569.80px;width:42.00px;height:0.80px;background:#5c5c5c;"></div>
<div class="r" style="left:52.50px;top:305.00px;width:1.60px;height:46.50px;background:#1f7a45;"></div>
<div class="r" style="left:52.50px;top:304.60px;width:30.00px;height:1.40px;background:#1f7a45;"></div>
<div class="t" style="left:88.90px;top:310.00px;font-size:39.80px;color:#202020;font-weight:700;transform:scaleX(1.0269);-webkit-text-stroke:0.80px #202020;">Top Revenue</div>
<div class="t" style="left:87.90px;top:355.00px;font-size:34.80px;color:#000;font-weight:700;-webkit-text-stroke:0.70px #000;">ABC Company Inc.</div>
<div class="t" style="left:86.80px;top:402.00px;font-size:22.10px;color:#2c7be5;font-weight:700;transform:scaleX(1.0330);-webkit-text-stroke:0.44px #2c7be5;">Go to Table of Contents</div>
<div class="r" style="left:86.80px;top:421.80px;width:257.00px;height:2.00px;background:#2c7be5;"></div>
<div class="r" style="left:53.00px;top:460.70px;width:2807.00px;height:1.00px;background:#b9b9b9;"></div>
<div class="r" style="left:82.00px;top:462.00px;width:2741.50px;height:41.60px;background:#4c51d1;"></div>
<div class="r" style="left:600.00px;top:502.70px;width:1020.00px;height:1.20px;background:#fff;"></div>
<div class="t" style="left:938.90px;top:465.00px;font-size:34.60px;color:#fff;font-weight:700;transform:scaleX(1.0275);-webkit-text-stroke:0.69px #fff;">Top</div>
<div class="t" style="left:1013.70px;top:465.00px;font-size:34.60px;color:#fff;font-weight:700;transform:scaleX(0.9876);-webkit-text-stroke:0.69px #fff;">5</div>
<div class="t" style="left:1046.00px;top:465.00px;font-size:34.60px;color:#fff;font-weight:700;transform:scaleX(1.0145);-webkit-text-stroke:0.69px #fff;">Revenue</div>
<div class="t" style="left:1203.40px;top:465.00px;font-size:34.60px;color:#fff;font-weight:700;transform:scaleX(1.0222);-webkit-text-stroke:0.69px #fff;">Streams</div>
<div class="t" style="left:1355.20px;top:465.00px;font-size:34.60px;color:#fff;font-weight:700;transform:scaleX(1.1448);-webkit-text-stroke:0.69px #fff;">($'000)</div>
<div class="t" style="left:1492.50px;top:465.00px;font-size:34.60px;color:#fff;font-weight:700;transform:scaleX(0.9721);-webkit-text-stroke:0.69px #fff;">-</div>
<div class="t" style="left:1517.00px;top:465.00px;font-size:34.60px;color:#fff;font-weight:700;transform:scaleX(0.9876);-webkit-text-stroke:0.69px #fff;">5</div>
<div class="t" style="left:1548.30px;top:465.00px;font-size:34.60px;color:#fff;font-weight:700;transform:scaleX(1.0117);-webkit-text-stroke:0.69px #fff;">years</div>
<div class="t" style="left:1651.00px;top:465.00px;font-size:34.60px;color:#fff;font-weight:700;transform:scaleX(1.0256);-webkit-text-stroke:0.69px #fff;">to</div>
<div class="t" style="left:1697.90px;top:465.00px;font-size:34.60px;color:#fff;font-weight:700;transform:scaleX(1.0070);-webkit-text-stroke:0.69px #fff;">December</div>
<div class="t" style="left:1879.80px;top:465.00px;font-size:34.60px;color:#fff;font-weight:700;transform:scaleX(1.1158);-webkit-text-stroke:0.69px #fff;">2030</div>
<div class="r" style="left:82.00px;top:769.50px;width:2741.50px;height:41.20px;background:#4c51d1;"></div>
<div class="t" style="left:938.90px;top:773.00px;font-size:34.60px;color:#fff;font-weight:700;transform:scaleX(1.0275);-webkit-text-stroke:0.69px #fff;">Top</div>
<div class="t" style="left:1013.70px;top:773.00px;font-size:34.60px;color:#fff;font-weight:700;transform:scaleX(0.9876);-webkit-text-stroke:0.69px #fff;">5</div>
<div class="t" style="left:1046.00px;top:773.00px;font-size:34.60px;color:#fff;font-weight:700;transform:scaleX(1.0145);-webkit-text-stroke:0.69px #fff;">Revenue</div>
<div class="t" style="left:1203.40px;top:773.00px;font-size:34.60px;color:#fff;font-weight:700;transform:scaleX(1.0222);-webkit-text-stroke:0.69px #fff;">Streams</div>
<div class="t" style="left:1355.20px;top:773.00px;font-size:34.60px;color:#fff;font-weight:700;transform:scaleX(1.1448);-webkit-text-stroke:0.69px #fff;">($'000)</div>
<div class="t" style="left:1492.50px;top:773.00px;font-size:34.60px;color:#fff;font-weight:700;transform:scaleX(0.9721);-webkit-text-stroke:0.69px #fff;">-</div>
<div class="t" style="left:1517.00px;top:773.00px;font-size:34.60px;color:#fff;font-weight:700;transform:scaleX(0.9876);-webkit-text-stroke:0.69px #fff;">5</div>
<div class="t" style="left:1548.30px;top:773.00px;font-size:34.60px;color:#fff;font-weight:700;transform:scaleX(1.0117);-webkit-text-stroke:0.69px #fff;">years</div>
<div class="t" style="left:1651.00px;top:773.00px;font-size:34.60px;color:#fff;font-weight:700;transform:scaleX(1.0256);-webkit-text-stroke:0.69px #fff;">to</div>
<div class="t" style="left:1697.90px;top:773.00px;font-size:34.60px;color:#fff;font-weight:700;transform:scaleX(1.0070);-webkit-text-stroke:0.69px #fff;">December</div>
<div class="t" style="left:1879.80px;top:773.00px;font-size:34.60px;color:#fff;font-weight:700;transform:scaleX(1.1158);-webkit-text-stroke:0.69px #fff;">2030</div>
<div class="r" style="left:82.00px;top:539.00px;width:1538.00px;height:28.00px;background:#6b72e6;"></div>
<div class="r" style="left:599.40px;top:539.00px;width:1.30px;height:28.00px;background:#fff;"></div>
<div class="r" style="left:803.40px;top:539.00px;width:1.30px;height:28.00px;background:#fff;"></div>
<div class="r" style="left:1007.40px;top:539.00px;width:1.30px;height:28.00px;background:#fff;"></div>
<div class="r" style="left:1211.40px;top:539.00px;width:1.30px;height:28.00px;background:#fff;"></div>
<div class="r" style="left:1415.40px;top:539.00px;width:1.30px;height:28.00px;background:#fff;"></div>
<div class="t" style="left:97.00px;top:543.00px;font-size:22.30px;color:#fff;font-weight:700;transform:scaleX(1.0289);-webkit-text-stroke:0.45px #fff;">Year Ending</div>
<div class="t" style="left:676.00px;top:543.00px;font-size:22.30px;color:#fff;font-weight:700;letter-spacing:0.067px;transform:scaleX(1.1000);-webkit-text-stroke:0.45px #fff;">2026</div>
<div class="t" style="left:880.00px;top:543.00px;font-size:22.30px;color:#fff;font-weight:700;letter-spacing:0.067px;transform:scaleX(1.1000);-webkit-text-stroke:0.45px #fff;">2027</div>
<div class="t" style="left:1084.00px;top:543.00px;font-size:22.30px;color:#fff;font-weight:700;letter-spacing:0.067px;transform:scaleX(1.1000);-webkit-text-stroke:0.45px #fff;">2028</div>
<div class="t" style="left:1288.00px;top:543.00px;font-size:22.30px;color:#fff;font-weight:700;letter-spacing:0.067px;transform:scaleX(1.1000);-webkit-text-stroke:0.45px #fff;">2029</div>
<div class="t" style="left:1492.00px;top:543.00px;font-size:22.30px;color:#fff;font-weight:700;letter-spacing:0.067px;transform:scaleX(1.1000);-webkit-text-stroke:0.45px #fff;">2030</div>
<div class="t" style="left:85.60px;top:578.00px;font-size:22.30px;color:#000;transform:scaleX(0.9521);">Artisanal Candles</div>
<div class="t" style="left:768.27px;top:578.00px;font-size:22.30px;color:#000;transform:scaleX(0.9650);">13</div>
<div class="t" style="left:972.27px;top:578.00px;font-size:22.30px;color:#000;transform:scaleX(0.9650);">39</div>
<div class="t" style="left:1164.31px;top:578.00px;font-size:22.30px;color:#000;transform:scaleX(0.9650);">104</div>
<div class="t" style="left:1368.31px;top:578.00px;font-size:22.30px;color:#000;transform:scaleX(0.9650);">196</div>
<div class="t" style="left:1572.31px;top:578.00px;font-size:22.30px;color:#000;transform:scaleX(0.9650);">354</div>
<div class="t" style="left:85.60px;top:607.00px;font-size:22.30px;color:#000;transform:scaleX(0.9798);">Diffusers</div>
<div class="t" style="left:780.24px;top:607.00px;font-size:22.30px;color:#000;transform:scaleX(0.9650);">8</div>
<div class="t" style="left:972.27px;top:607.00px;font-size:22.30px;color:#000;transform:scaleX(0.9650);">23</div>
<div class="t" style="left:1176.27px;top:607.00px;font-size:22.30px;color:#000;transform:scaleX(0.9650);">61</div>
<div class="t" style="left:1369.90px;top:607.00px;font-size:22.30px;color:#000;transform:scaleX(0.9650);">116</div>
<div class="t" style="left:1572.31px;top:607.00px;font-size:22.30px;color:#000;transform:scaleX(0.9650);">210</div>
<div class="t" style="left:85.60px;top:636.00px;font-size:22.30px;color:#000;transform:scaleX(0.9602);">Custom Gifting</div>
<div class="t" style="left:780.24px;top:636.00px;font-size:22.30px;color:#000;transform:scaleX(0.9650);">7</div>
<div class="t" style="left:972.27px;top:636.00px;font-size:22.30px;color:#000;transform:scaleX(0.9650);">22</div>
<div class="t" style="left:1176.27px;top:636.00px;font-size:22.30px;color:#000;transform:scaleX(0.9650);">58</div>
<div class="t" style="left:1371.49px;top:636.00px;font-size:22.30px;color:#000;transform:scaleX(0.9650);">111</div>
<div class="t" style="left:1572.31px;top:636.00px;font-size:22.30px;color:#000;transform:scaleX(0.9650);">202</div>
<div class="t" style="left:85.60px;top:665.00px;font-size:22.30px;color:#000;transform:scaleX(0.9780);">Workshop Tickets</div>
<div class="t" style="left:780.24px;top:665.00px;font-size:22.30px;color:#000;transform:scaleX(0.9650);">6</div>
<div class="t" style="left:972.27px;top:665.00px;font-size:22.30px;color:#000;transform:scaleX(0.9650);">20</div>
<div class="t" style="left:1176.27px;top:665.00px;font-size:22.30px;color:#000;transform:scaleX(0.9650);">51</div>
<div class="t" style="left:1380.27px;top:665.00px;font-size:22.30px;color:#000;transform:scaleX(0.9650);">96</div>
<div class="t" style="left:1572.31px;top:665.00px;font-size:22.30px;color:#000;transform:scaleX(0.9650);">172</div>
<div class="t" style="left:85.60px;top:694.00px;font-size:22.30px;color:#000;transform:scaleX(0.9693);">Other Revenue</div>
<div class="t" style="left:780.24px;top:694.00px;font-size:22.30px;color:#000;transform:scaleX(0.9650);">3</div>
<div class="t" style="left:984.24px;top:694.00px;font-size:22.30px;color:#000;transform:scaleX(0.9650);">8</div>
<div class="t" style="left:1176.27px;top:694.00px;font-size:22.30px;color:#000;transform:scaleX(0.9650);">21</div>
<div class="t" style="left:1380.27px;top:694.00px;font-size:22.30px;color:#000;transform:scaleX(0.9650);">40</div>
<div class="t" style="left:1584.27px;top:694.00px;font-size:22.30px;color:#000;transform:scaleX(0.9650);">73</div>
<div class="r" style="left:81.30px;top:718.40px;width:1539.50px;height:29.20px;background:#4bb3e8;"></div>
<div class="t" style="left:97.30px;top:720.00px;font-size:27.10px;color:#fff;font-weight:700;transform:scaleX(0.9764);-webkit-text-stroke:0.54px #fff;">Total Revenue</div>
<div class="t" style="left:762.10px;top:724.00px;font-size:22.30px;color:#fff;font-weight:700;letter-spacing:0.200px;transform:scaleX(1.1000);-webkit-text-stroke:0.45px #fff;">37</div>
<div class="t" style="left:953.59px;top:724.00px;font-size:22.30px;color:#fff;font-weight:700;letter-spacing:0.200px;transform:scaleX(1.1000);-webkit-text-stroke:0.45px #fff;">113</div>
<div class="t" style="left:1156.24px;top:724.00px;font-size:22.30px;color:#fff;font-weight:700;letter-spacing:0.200px;transform:scaleX(1.1000);-webkit-text-stroke:0.45px #fff;">296</div>
<div class="t" style="left:1360.24px;top:724.00px;font-size:22.30px;color:#fff;font-weight:700;letter-spacing:0.200px;transform:scaleX(1.1000);-webkit-text-stroke:0.45px #fff;">559</div>
<div class="t" style="left:1543.35px;top:724.00px;font-size:22.30px;color:#fff;font-weight:700;letter-spacing:0.200px;transform:scaleX(1.1000);-webkit-text-stroke:0.45px #fff;">1,010</div>
<div class="r" style="left:1877.40px;top:539.00px;width:805.00px;height:28.00px;background:#6b72e6;"></div>
<div class="r" style="left:2037.80px;top:539.00px;width:1.30px;height:28.00px;background:#fff;"></div>
<div class="r" style="left:2198.90px;top:539.00px;width:1.30px;height:28.00px;background:#fff;"></div>
<div class="r" style="left:2360.00px;top:539.00px;width:1.30px;height:28.00px;background:#fff;"></div>
<div class="r" style="left:2521.10px;top:539.00px;width:1.30px;height:28.00px;background:#fff;"></div>
<div class="t" style="left:1931.10px;top:543.00px;font-size:22.30px;color:#fff;font-weight:700;letter-spacing:0.067px;transform:scaleX(1.1000);-webkit-text-stroke:0.45px #fff;">2026</div>
<div class="t" style="left:2092.15px;top:543.00px;font-size:22.30px;color:#fff;font-weight:700;letter-spacing:0.067px;transform:scaleX(1.1000);-webkit-text-stroke:0.45px #fff;">2027</div>
<div class="t" style="left:2253.20px;top:543.00px;font-size:22.30px;color:#fff;font-weight:700;letter-spacing:0.067px;transform:scaleX(1.1000);-webkit-text-stroke:0.45px #fff;">2028</div>
<div class="t" style="left:2414.25px;top:543.00px;font-size:22.30px;color:#fff;font-weight:700;letter-spacing:0.067px;transform:scaleX(1.1000);-webkit-text-stroke:0.45px #fff;">2029</div>
<div class="t" style="left:2575.30px;top:543.00px;font-size:22.30px;color:#fff;font-weight:700;letter-spacing:0.067px;transform:scaleX(1.1000);-webkit-text-stroke:0.45px #fff;">2030</div>
<div class="t" style="left:1960.30px;top:578.00px;font-size:22.30px;color:#000;font-style:italic;transform:scaleX(1.0044);">34.9%</div>
<div class="t" style="left:2121.35px;top:578.00px;font-size:22.30px;color:#000;font-style:italic;transform:scaleX(1.0044);">35.0%</div>
<div class="t" style="left:2282.40px;top:578.00px;font-size:22.30px;color:#000;font-style:italic;transform:scaleX(1.0044);">35.2%</div>
<div class="t" style="left:2443.45px;top:578.00px;font-size:22.30px;color:#000;font-style:italic;transform:scaleX(1.0044);">35.1%</div>
<div class="t" style="left:2604.50px;top:578.00px;font-size:22.30px;color:#000;font-style:italic;transform:scaleX(1.0044);">35.0%</div>
<div class="t" style="left:1960.43px;top:607.00px;font-size:22.30px;color:#000;font-style:italic;transform:scaleX(1.0023);">20.9%</div>
<div class="t" style="left:2121.48px;top:607.00px;font-size:22.30px;color:#000;font-style:italic;transform:scaleX(1.0023);">20.8%</div>
<div class="t" style="left:2282.53px;top:607.00px;font-size:22.30px;color:#000;font-style:italic;transform:scaleX(1.0023);">20.7%</div>
<div class="t" style="left:2443.58px;top:607.00px;font-size:22.30px;color:#000;font-style:italic;transform:scaleX(1.0023);">20.8%</div>
<div class="t" style="left:2604.63px;top:607.00px;font-size:22.30px;color:#000;font-style:italic;transform:scaleX(1.0023);">20.8%</div>
<div class="t" style="left:1960.30px;top:636.00px;font-size:22.30px;color:#000;font-style:italic;transform:scaleX(1.0044);">19.6%</div>
<div class="t" style="left:2121.35px;top:636.00px;font-size:22.30px;color:#000;font-style:italic;transform:scaleX(1.0044);">19.6%</div>
<div class="t" style="left:2282.40px;top:636.00px;font-size:22.30px;color:#000;font-style:italic;transform:scaleX(1.0044);">19.7%</div>
<div class="t" style="left:2443.45px;top:636.00px;font-size:22.30px;color:#000;font-style:italic;transform:scaleX(1.0044);">19.8%</div>
<div class="t" style="left:2604.63px;top:636.00px;font-size:22.30px;color:#000;font-style:italic;transform:scaleX(1.0023);">20.0%</div>
<div class="t" style="left:1960.30px;top:665.00px;font-size:22.30px;color:#000;font-style:italic;transform:scaleX(1.0044);">17.4%</div>
<div class="t" style="left:2121.35px;top:665.00px;font-size:22.30px;color:#000;font-style:italic;transform:scaleX(1.0044);">17.4%</div>
<div class="t" style="left:2282.40px;top:665.00px;font-size:22.30px;color:#000;font-style:italic;transform:scaleX(1.0044);">17.2%</div>
<div class="t" style="left:2443.45px;top:665.00px;font-size:22.30px;color:#000;font-style:italic;transform:scaleX(1.0044);">17.1%</div>
<div class="t" style="left:2604.50px;top:665.00px;font-size:22.30px;color:#000;font-style:italic;transform:scaleX(1.0044);">17.0%</div>
<div class="t" style="left:1972.30px;top:694.00px;font-size:22.30px;color:#000;font-style:italic;transform:scaleX(1.0133);">7.2%</div>
<div class="t" style="left:2133.35px;top:694.00px;font-size:22.30px;color:#000;font-style:italic;transform:scaleX(1.0133);">7.2%</div>
<div class="t" style="left:2294.40px;top:694.00px;font-size:22.30px;color:#000;font-style:italic;transform:scaleX(1.0133);">7.2%</div>
<div class="t" style="left:2455.45px;top:694.00px;font-size:22.30px;color:#000;font-style:italic;transform:scaleX(1.0133);">7.2%</div>
<div class="t" style="left:2616.50px;top:694.00px;font-size:22.30px;color:#000;font-style:italic;transform:scaleX(1.0133);">7.2%</div>
<div class="r" style="left:1876.60px;top:718.40px;width:806.60px;height:29.20px;background:#4bb3e8;"></div>
<div class="t" style="left:1964.20px;top:724.00px;font-size:22.30px;color:#fff;font-weight:700;font-style:italic;letter-spacing:1.289px;transform:scaleX(1.1000);-webkit-text-stroke:0.45px #fff;">100%</div>
<div class="t" style="left:2125.25px;top:724.00px;font-size:22.30px;color:#fff;font-weight:700;font-style:italic;letter-spacing:1.289px;transform:scaleX(1.1000);-webkit-text-stroke:0.45px #fff;">100%</div>
<div class="t" style="left:2286.30px;top:724.00px;font-size:22.30px;color:#fff;font-weight:700;font-style:italic;letter-spacing:1.289px;transform:scaleX(1.1000);-webkit-text-stroke:0.45px #fff;">100%</div>
<div class="t" style="left:2447.35px;top:724.00px;font-size:22.30px;color:#fff;font-weight:700;font-style:italic;letter-spacing:1.289px;transform:scaleX(1.1000);-webkit-text-stroke:0.45px #fff;">100%</div>
<div class="t" style="left:2608.40px;top:724.00px;font-size:22.30px;color:#fff;font-weight:700;font-style:italic;letter-spacing:1.289px;transform:scaleX(1.1000);-webkit-text-stroke:0.45px #fff;">100%</div>
<div class="r" style="left:82.00px;top:1537.00px;width:2741.50px;height:42.00px;background:#4c51d1;"></div>
<div class="r" style="left:1824.00px;top:1537.00px;width:1.20px;height:42.00px;background:#cfd0f5;"></div>
<div class="t" style="left:693.00px;top:1541.00px;font-size:34.60px;color:#fff;font-weight:700;transform:scaleX(1.0145);-webkit-text-stroke:0.69px #fff;">Revenue</div>
<div class="t" style="left:851.90px;top:1541.00px;font-size:34.60px;color:#fff;font-weight:700;transform:scaleX(1.0273);-webkit-text-stroke:0.69px #fff;">Depth</div>
<div class="t" style="left:964.60px;top:1541.00px;font-size:34.60px;color:#fff;font-weight:700;transform:scaleX(1.1485);-webkit-text-stroke:0.69px #fff;">($'000)</div>
<div class="t" style="left:1102.60px;top:1541.00px;font-size:34.60px;color:#fff;font-weight:700;transform:scaleX(0.9721);-webkit-text-stroke:0.69px #fff;">-</div>
<div class="t" style="left:1128.00px;top:1541.00px;font-size:34.60px;color:#fff;font-weight:700;transform:scaleX(1.1119);-webkit-text-stroke:0.69px #fff;">2026</div>
<div class="t" style="left:2039.60px;top:1541.00px;font-size:34.60px;color:#fff;font-weight:700;transform:scaleX(1.0285);-webkit-text-stroke:0.69px #fff;">Monthly</div>
<div class="t" style="left:2187.60px;top:1541.00px;font-size:34.60px;color:#fff;font-weight:700;transform:scaleX(1.0516);-webkit-text-stroke:0.69px #fff;">Run-Rate</div>
<div class="t" style="left:2360.90px;top:1541.00px;font-size:34.60px;color:#fff;font-weight:700;transform:scaleX(1.1485);-webkit-text-stroke:0.69px #fff;">($'000)</div>
<div class="t" style="left:2498.50px;top:1541.00px;font-size:34.60px;color:#fff;font-weight:700;transform:scaleX(0.9721);-webkit-text-stroke:0.69px #fff;">-</div>
<div class="t" style="left:2523.60px;top:1541.00px;font-size:34.60px;color:#fff;font-weight:700;transform:scaleX(1.1132);-webkit-text-stroke:0.69px #fff;">2026</div>
<div class="r" style="left:2520.50px;top:1579.00px;width:303.00px;height:29.20px;background:#fff36d;border:1.5px solid #d9d9d9;box-sizing:border-box;"></div>
<div class="t" style="left:2645.20px;top:1584.00px;font-size:22.30px;color:#111;font-weight:700;letter-spacing:0.067px;transform:scaleX(1.1000);-webkit-text-stroke:0.45px #111;">2026</div>
<div class="r" style="left:81.00px;top:1619.60px;width:1482.00px;height:1.10px;background:#7fbfd9;"></div>
<div class="t" style="left:259.20px;top:1640.00px;font-size:21.20px;color:#000;font-weight:700;letter-spacing:0.794px;transform:scaleX(1.1000);-webkit-text-stroke:0.42px #000;">12.8</div>
<div class="r" style="left:1621.00px;top:1662.00px;width:11.00px;height:9.00px;background:#4bb3e8;"></div>
<div class="t" style="left:1637.00px;top:1656.00px;font-size:21.20px;color:#000;font-weight:700;transform:scaleX(1.0889);-webkit-text-stroke:0.42px #000;">Artisanal Candles</div>
<div class="r" style="left:175.40px;top:1491.00px;width:1443.00px;height:1.30px;background:#5b86b8;"></div>
<div class="t" style="left:114.90px;top:1481.00px;font-size:21.20px;color:#000;font-weight:700;letter-spacing:1.449px;transform:scaleX(1.2000);-webkit-text-stroke:0.40px #000;">0%</div>
<div class="r" style="left:175.40px;top:1427.00px;width:1443.00px;height:1.30px;background:#5b86b8;"></div>
<div class="t" style="left:100.40px;top:1417.00px;font-size:21.20px;color:#000;font-weight:700;letter-spacing:0.873px;transform:scaleX(1.2000);-webkit-text-stroke:0.40px #000;">10%</div>
<div class="r" style="left:175.40px;top:1363.00px;width:1443.00px;height:1.30px;background:#5b86b8;"></div>
<div class="t" style="left:100.40px;top:1353.00px;font-size:21.20px;color:#000;font-weight:700;letter-spacing:0.873px;transform:scaleX(1.2000);-webkit-text-stroke:0.40px #000;">20%</div>
<div class="r" style="left:175.40px;top:1299.00px;width:1443.00px;height:1.30px;background:#5b86b8;"></div>
<div class="t" style="left:100.40px;top:1290.00px;font-size:21.20px;color:#000;font-weight:700;letter-spacing:0.873px;transform:scaleX(1.2000);-webkit-text-stroke:0.40px #000;">30%</div>
<div class="r" style="left:175.40px;top:1236.00px;width:1443.00px;height:1.30px;background:#5b86b8;"></div>
<div class="t" style="left:100.40px;top:1226.00px;font-size:21.20px;color:#000;font-weight:700;letter-spacing:0.873px;transform:scaleX(1.2000);-webkit-text-stroke:0.40px #000;">40%</div>
<div class="r" style="left:175.40px;top:1172.00px;width:1443.00px;height:1.30px;background:#5b86b8;"></div>
<div class="t" style="left:100.40px;top:1162.00px;font-size:21.20px;color:#000;font-weight:700;letter-spacing:0.873px;transform:scaleX(1.2000);-webkit-text-stroke:0.40px #000;">50%</div>
<div class="r" style="left:175.40px;top:1108.00px;width:1443.00px;height:1.30px;background:#5b86b8;"></div>
<div class="t" style="left:100.40px;top:1098.00px;font-size:21.20px;color:#000;font-weight:700;letter-spacing:0.873px;transform:scaleX(1.2000);-webkit-text-stroke:0.40px #000;">60%</div>
<div class="r" style="left:175.40px;top:1044.00px;width:1443.00px;height:1.30px;background:#5b86b8;"></div>
<div class="t" style="left:100.40px;top:1035.00px;font-size:21.20px;color:#000;font-weight:700;letter-spacing:0.873px;transform:scaleX(1.2000);-webkit-text-stroke:0.40px #000;">70%</div>
<div class="r" style="left:175.40px;top:981.00px;width:1443.00px;height:1.30px;background:#5b86b8;"></div>
<div class="t" style="left:100.40px;top:971.00px;font-size:21.20px;color:#000;font-weight:700;letter-spacing:0.873px;transform:scaleX(1.2000);-webkit-text-stroke:0.40px #000;">80%</div>
<div class="r" style="left:175.40px;top:917.00px;width:1443.00px;height:1.30px;background:#5b86b8;"></div>
<div class="t" style="left:100.40px;top:907.00px;font-size:21.20px;color:#000;font-weight:700;letter-spacing:0.873px;transform:scaleX(1.2000);-webkit-text-stroke:0.40px #000;">90%</div>
<div class="r" style="left:175.40px;top:853.00px;width:1443.00px;height:1.30px;background:#5b86b8;"></div>
<div class="t" style="left:85.90px;top:843.00px;font-size:21.20px;color:#000;font-weight:700;letter-spacing:0.673px;transform:scaleX(1.2000);-webkit-text-stroke:0.40px #000;">100%</div>
<div class="r" style="left:223.90px;top:1268.44px;width:193.00px;height:222.86px;background:#4bb3e8;"></div>
<div class="r" style="left:298.15px;top:1362.22px;width:45.50px;height:35.00px;background:#dde6f2;"></div>
<div class="t" style="left:307.65px;top:1369.00px;font-size:21.20px;color:#000;font-weight:700;transform:scaleX(1.1241);-webkit-text-stroke:0.40px #000;">13</div>
<div class="r" style="left:223.90px;top:1135.16px;width:193.00px;height:133.58px;background:#4e52d2;"></div>
<div class="r" style="left:301.75px;top:1184.30px;width:38.30px;height:35.00px;background:#a9ace9;"></div>
<div class="t" style="left:317.75px;top:1191.00px;font-size:21.20px;color:#000;font-weight:700;transform:scaleX(1.0435);-webkit-text-stroke:0.40px #000;">8</div>
<div class="r" style="left:223.90px;top:1010.17px;width:193.00px;height:125.29px;background:#f17c72;"></div>
<div class="r" style="left:301.75px;top:1055.17px;width:38.30px;height:35.00px;background:#f8cab1;"></div>
<div class="t" style="left:317.75px;top:1062.00px;font-size:21.20px;color:#000;font-weight:700;transform:scaleX(1.0435);-webkit-text-stroke:0.40px #000;">7</div>
<div class="r" style="left:223.90px;top:899.21px;width:193.00px;height:111.26px;background:#f4b400;"></div>
<div class="r" style="left:301.75px;top:937.19px;width:38.30px;height:35.00px;background:#fdf1d6;"></div>
<div class="t" style="left:317.75px;top:944.00px;font-size:21.20px;color:#000;font-weight:700;transform:scaleX(1.0435);-webkit-text-stroke:0.40px #000;">6</div>
<div class="r" style="left:223.90px;top:853.30px;width:193.00px;height:46.21px;background:#2eb5aa;"></div>
<div class="r" style="left:305.25px;top:858.76px;width:31.30px;height:35.00px;background:#dcebd9;"></div>
<div class="t" style="left:314.75px;top:866.00px;font-size:21.20px;color:#000;font-weight:700;transform:scaleX(1.0435);-webkit-text-stroke:0.40px #000;">3</div>
<div class="t" style="left:293.30px;top:1509.00px;font-size:21.20px;color:#000;font-weight:700;transform:scaleX(1.1745);-webkit-text-stroke:0.40px #000;">2026</div>
<div class="r" style="left:512.70px;top:1267.81px;width:193.00px;height:223.49px;background:#4bb3e8;"></div>
<div class="r" style="left:586.95px;top:1361.90px;width:45.50px;height:35.00px;background:#dde6f2;"></div>
<div class="t" style="left:596.45px;top:1369.00px;font-size:21.20px;color:#000;font-weight:700;transform:scaleX(1.1241);-webkit-text-stroke:0.40px #000;">39</div>
<div class="r" style="left:512.70px;top:1135.16px;width:193.00px;height:132.94px;background:#4e52d2;"></div>
<div class="r" style="left:583.45px;top:1183.98px;width:52.50px;height:35.00px;background:#a9ace9;"></div>
<div class="t" style="left:599.45px;top:1191.00px;font-size:21.20px;color:#000;font-weight:700;transform:scaleX(1.1241);-webkit-text-stroke:0.40px #000;">23</div>
<div class="r" style="left:512.70px;top:1010.17px;width:193.00px;height:125.29px;background:#f17c72;"></div>
<div class="r" style="left:583.45px;top:1055.17px;width:52.50px;height:35.00px;background:#f8cab1;"></div>
<div class="t" style="left:599.45px;top:1062.00px;font-size:21.20px;color:#000;font-weight:700;transform:scaleX(1.1241);-webkit-text-stroke:0.40px #000;">22</div>
<div class="r" style="left:512.70px;top:899.21px;width:193.00px;height:111.26px;background:#f4b400;"></div>
<div class="r" style="left:583.45px;top:937.19px;width:52.50px;height:35.00px;background:#fdf1d6;"></div>
<div class="t" style="left:599.45px;top:944.00px;font-size:21.20px;color:#000;font-weight:700;transform:scaleX(1.1241);-webkit-text-stroke:0.40px #000;">20</div>
<div class="r" style="left:512.70px;top:853.30px;width:193.00px;height:46.21px;background:#2eb5aa;"></div>
<div class="r" style="left:594.05px;top:858.76px;width:31.30px;height:35.00px;background:#dcebd9;"></div>
<div class="t" style="left:603.55px;top:866.00px;font-size:21.20px;color:#000;font-weight:700;transform:scaleX(1.0435);-webkit-text-stroke:0.40px #000;">8</div>
<div class="t" style="left:582.10px;top:1509.00px;font-size:21.20px;color:#000;font-weight:700;transform:scaleX(1.1745);-webkit-text-stroke:0.40px #000;">2027</div>
<div class="r" style="left:801.50px;top:1266.53px;width:193.00px;height:224.77px;background:#4bb3e8;"></div>
<div class="r" style="left:868.65px;top:1361.26px;width:59.70px;height:35.00px;background:#dde6f2;"></div>
<div class="t" style="left:878.15px;top:1368.00px;font-size:21.20px;color:#000;font-weight:700;transform:scaleX(1.1510);-webkit-text-stroke:0.40px #000;">104</div>
<div class="r" style="left:801.50px;top:1134.53px;width:193.00px;height:132.30px;background:#4e52d2;"></div>
<div class="r" style="left:872.25px;top:1183.03px;width:52.50px;height:35.00px;background:#a9ace9;"></div>
<div class="t" style="left:888.25px;top:1190.00px;font-size:21.20px;color:#000;font-weight:700;transform:scaleX(1.1241);-webkit-text-stroke:0.40px #000;">61</div>
<div class="r" style="left:801.50px;top:1008.90px;width:193.00px;height:125.93px;background:#f17c72;"></div>
<div class="r" style="left:872.25px;top:1054.21px;width:52.50px;height:35.00px;background:#f8cab1;"></div>
<div class="t" style="left:888.25px;top:1061.00px;font-size:21.20px;color:#000;font-weight:700;transform:scaleX(1.1241);-webkit-text-stroke:0.40px #000;">58</div>
<div class="r" style="left:801.50px;top:899.21px;width:193.00px;height:109.98px;background:#f4b400;"></div>
<div class="r" style="left:872.25px;top:936.56px;width:52.50px;height:35.00px;background:#fdf1d6;"></div>
<div class="t" style="left:888.25px;top:944.00px;font-size:21.20px;color:#000;font-weight:700;transform:scaleX(1.1241);-webkit-text-stroke:0.40px #000;">51</div>
<div class="r" style="left:801.50px;top:853.30px;width:193.00px;height:46.21px;background:#2eb5aa;"></div>
<div class="r" style="left:875.75px;top:858.76px;width:45.50px;height:35.00px;background:#dcebd9;"></div>
<div class="t" style="left:885.25px;top:866.00px;font-size:21.20px;color:#000;font-weight:700;transform:scaleX(1.1241);-webkit-text-stroke:0.40px #000;">21</div>
<div class="t" style="left:870.90px;top:1509.00px;font-size:21.20px;color:#000;font-weight:700;transform:scaleX(1.1745);-webkit-text-stroke:0.40px #000;">2028</div>
<div class="r" style="left:1090.30px;top:1267.17px;width:193.00px;height:224.13px;background:#4bb3e8;"></div>
<div class="r" style="left:1157.45px;top:1361.58px;width:59.70px;height:35.00px;background:#dde6f2;"></div>
<div class="t" style="left:1166.95px;top:1369.00px;font-size:21.20px;color:#000;font-weight:700;transform:scaleX(1.1510);-webkit-text-stroke:0.40px #000;">196</div>
<div class="r" style="left:1090.30px;top:1134.53px;width:193.00px;height:132.94px;background:#4e52d2;"></div>
<div class="r" style="left:1153.95px;top:1183.35px;width:66.70px;height:35.00px;background:#a9ace9;"></div>
<div class="t" style="left:1169.95px;top:1190.00px;font-size:21.20px;color:#000;font-weight:700;transform:scaleX(1.1902);-webkit-text-stroke:0.40px #000;">116</div>
<div class="r" style="left:1090.30px;top:1008.26px;width:193.00px;height:126.56px;background:#f17c72;"></div>
<div class="r" style="left:1153.95px;top:1053.89px;width:66.70px;height:35.00px;background:#f8cab1;"></div>
<div class="t" style="left:1169.95px;top:1061.00px;font-size:21.20px;color:#000;font-weight:700;letter-spacing:0.444px;transform:scaleX(1.2000);-webkit-text-stroke:0.40px #000;">111</div>
<div class="r" style="left:1090.30px;top:899.21px;width:193.00px;height:109.35px;background:#f4b400;"></div>
<div class="r" style="left:1161.05px;top:936.24px;width:52.50px;height:35.00px;background:#fdf1d6;"></div>
<div class="t" style="left:1177.05px;top:943.00px;font-size:21.20px;color:#000;font-weight:700;transform:scaleX(1.1241);-webkit-text-stroke:0.40px #000;">96</div>
<div class="r" style="left:1090.30px;top:853.30px;width:193.00px;height:46.21px;background:#2eb5aa;"></div>
<div class="r" style="left:1164.55px;top:858.76px;width:45.50px;height:35.00px;background:#dcebd9;"></div>
<div class="t" style="left:1174.05px;top:866.00px;font-size:21.20px;color:#000;font-weight:700;transform:scaleX(1.1241);-webkit-text-stroke:0.40px #000;">40</div>
<div class="t" style="left:1159.70px;top:1509.00px;font-size:21.20px;color:#000;font-weight:700;transform:scaleX(1.1745);-webkit-text-stroke:0.40px #000;">2029</div>
<div class="r" style="left:1379.10px;top:1267.81px;width:193.00px;height:223.49px;background:#4bb3e8;"></div>
<div class="r" style="left:1446.25px;top:1361.90px;width:59.70px;height:35.00px;background:#dde6f2;"></div>
<div class="t" style="left:1455.75px;top:1369.00px;font-size:21.20px;color:#000;font-weight:700;transform:scaleX(1.1510);-webkit-text-stroke:0.40px #000;">354</div>
<div class="r" style="left:1379.10px;top:1135.16px;width:193.00px;height:132.94px;background:#4e52d2;"></div>
<div class="r" style="left:1442.75px;top:1183.98px;width:66.70px;height:35.00px;background:#a9ace9;"></div>
<div class="t" style="left:1458.75px;top:1191.00px;font-size:21.20px;color:#000;font-weight:700;transform:scaleX(1.1510);-webkit-text-stroke:0.40px #000;">210</div>
<div class="r" style="left:1379.10px;top:1007.62px;width:193.00px;height:127.84px;background:#f17c72;"></div>
<div class="r" style="left:1442.75px;top:1053.89px;width:66.70px;height:35.00px;background:#f8cab1;"></div>
<div class="t" style="left:1458.75px;top:1061.00px;font-size:21.20px;color:#000;font-weight:700;transform:scaleX(1.1510);-webkit-text-stroke:0.40px #000;">202</div>
<div class="r" style="left:1379.10px;top:899.21px;width:193.00px;height:108.71px;background:#f4b400;"></div>
<div class="r" style="left:1442.75px;top:935.92px;width:66.70px;height:35.00px;background:#fdf1d6;"></div>
<div class="t" style="left:1458.75px;top:943.00px;font-size:21.20px;color:#000;font-weight:700;transform:scaleX(1.1510);-webkit-text-stroke:0.40px #000;">172</div>
<div class="r" style="left:1379.10px;top:853.30px;width:193.00px;height:46.21px;background:#2eb5aa;"></div>
<div class="r" style="left:1453.35px;top:858.76px;width:45.50px;height:35.00px;background:#dcebd9;"></div>
<div class="t" style="left:1462.85px;top:866.00px;font-size:21.20px;color:#000;font-weight:700;transform:scaleX(1.1241);-webkit-text-stroke:0.40px #000;">73</div>
<div class="t" style="left:1448.50px;top:1509.00px;font-size:21.20px;color:#000;font-weight:700;transform:scaleX(1.1745);-webkit-text-stroke:0.40px #000;">2030</div>
<div class="r" style="left:1645.30px;top:901.30px;width:57.20px;height:4.60px;background:#4bb3e8;border-radius:2.3px;"></div>
<div class="r" style="left:1668.00px;top:898.60px;width:10.00px;height:10.00px;background:#4bb3e8;border-radius:5px;"></div>
<div class="t" style="left:1707.30px;top:893.00px;font-size:21.20px;color:#000;font-weight:700;transform:scaleX(1.0889);-webkit-text-stroke:0.40px #000;">Artisanal Candles</div>
<div class="r" style="left:1645.30px;top:1033.40px;width:57.20px;height:4.60px;background:#4e52d2;border-radius:2.3px;"></div>
<div class="r" style="left:1668.00px;top:1030.70px;width:10.50px;height:10.50px;background:#4e52d2;"></div>
<div class="t" style="left:1707.30px;top:1025.00px;font-size:21.20px;color:#000;font-weight:700;transform:scaleX(1.0936);-webkit-text-stroke:0.40px #000;">Diffusers</div>
<div class="r" style="left:1645.30px;top:1165.50px;width:57.20px;height:4.60px;background:#f17c72;border-radius:2.3px;"></div>
<svg class="r" style="left:1667.00px;top:1160.80px;" width="12" height="12" viewBox="0 0 12 12"><path d="M6 1 L11.5 11 H0.5 Z" fill="#f17c72"/></svg>
<div class="t" style="left:1707.30px;top:1157.00px;font-size:21.20px;color:#000;font-weight:700;transform:scaleX(1.0942);-webkit-text-stroke:0.40px #000;">Custom Gifting</div>
<div class="r" style="left:1645.30px;top:1297.60px;width:57.20px;height:4.60px;background:#f4b400;border-radius:2.3px;"></div>
<svg class="r" style="left:1667.00px;top:1293.90px;" width="12" height="12" viewBox="0 0 12 12"><path d="M1 1 L11 11 M11 1 L1 11" stroke="#f7c948" stroke-width="1.6"/></svg>
<div class="t" style="left:1707.30px;top:1289.00px;font-size:21.20px;color:#000;font-weight:700;transform:scaleX(1.1027);-webkit-text-stroke:0.40px #000;">Workshop Tickets</div>
<div class="r" style="left:1645.30px;top:1429.70px;width:57.20px;height:4.60px;background:#2eb5aa;border-radius:2.3px;"></div>
<div class="r" style="left:1668.00px;top:1427.00px;width:10.50px;height:10.50px;background:#5fb56b;"></div>
<div class="t" style="left:1707.30px;top:1421.00px;font-size:21.20px;color:#000;font-weight:700;transform:scaleX(1.1141);-webkit-text-stroke:0.40px #000;">Other Revenue</div>
<div class="r" style="left:2052.80px;top:1489.00px;width:769.40px;height:1.30px;background:#7fc0d8;"></div>
<div class="t" style="left:2016.94px;top:1475.00px;font-size:21.20px;color:#000;font-weight:700;-webkit-text-stroke:0.40px #000;">-</div>
<div class="r" style="left:2052.80px;top:1409.00px;width:769.40px;height:1.30px;background:#7fc0d8;"></div>
<div class="t" style="left:1997.20px;top:1399.00px;font-size:21.20px;color:#000;font-weight:700;transform:scaleX(1.1368);-webkit-text-stroke:0.40px #000;">50</div>
<div class="r" style="left:2052.80px;top:1330.00px;width:769.40px;height:1.30px;background:#7fc0d8;"></div>
<div class="t" style="left:1983.00px;top:1320.00px;font-size:21.20px;color:#000;font-weight:700;transform:scaleX(1.1594);-webkit-text-stroke:0.40px #000;">100</div>
<div class="r" style="left:2052.80px;top:1250.00px;width:769.40px;height:1.30px;background:#7fc0d8;"></div>
<div class="t" style="left:1983.00px;top:1240.00px;font-size:21.20px;color:#000;font-weight:700;transform:scaleX(1.1594);-webkit-text-stroke:0.40px #000;">150</div>
<div class="r" style="left:2052.80px;top:1171.00px;width:769.40px;height:1.30px;background:#7fc0d8;"></div>
<div class="t" style="left:1983.00px;top:1160.00px;font-size:21.20px;color:#000;font-weight:700;transform:scaleX(1.1594);-webkit-text-stroke:0.40px #000;">200</div>
<div class="r" style="left:2052.80px;top:1091.00px;width:769.40px;height:1.30px;background:#7fc0d8;"></div>
<div class="t" style="left:1983.00px;top:1081.00px;font-size:21.20px;color:#000;font-weight:700;transform:scaleX(1.1594);-webkit-text-stroke:0.40px #000;">250</div>
<div class="r" style="left:2052.80px;top:1012.00px;width:769.40px;height:1.30px;background:#7fc0d8;"></div>
<div class="t" style="left:1983.00px;top:1001.00px;font-size:21.20px;color:#000;font-weight:700;transform:scaleX(1.1594);-webkit-text-stroke:0.40px #000;">300</div>
<div class="r" style="left:2052.80px;top:932.00px;width:769.40px;height:1.30px;background:#7fc0d8;"></div>
<div class="t" style="left:1983.00px;top:922.00px;font-size:21.20px;color:#000;font-weight:700;transform:scaleX(1.1594);-webkit-text-stroke:0.40px #000;">350</div>
<div class="r" style="left:2052.80px;top:852.00px;width:769.40px;height:1.30px;background:#7fc0d8;"></div>
<div class="t" style="left:1983.00px;top:842.00px;font-size:21.20px;color:#000;font-weight:700;transform:scaleX(1.1594);-webkit-text-stroke:0.40px #000;">400</div>
<svg class="r" style="left:2032.80px;top:840.00px;" width="809" height="700" viewBox="0 0 809 700"><path d="M96.9 628.5 L250.8 587.2 L404.7 483.7 L558.6 337.4 L712.5 86.0" fill="none" stroke="#4bb3e8" stroke-width="4.2" stroke-linejoin="round" stroke-linecap="round"/><circle cx="96.9" cy="628.5" r="7.3" fill="#4bb3e8"/><circle cx="250.8" cy="587.2" r="7.3" fill="#4bb3e8"/><circle cx="404.7" cy="483.7" r="7.3" fill="#4bb3e8"/><circle cx="558.6" cy="337.4" r="7.3" fill="#4bb3e8"/><circle cx="712.5" cy="86.0" r="7.3" fill="#4bb3e8"/><path d="M96.9 636.5 L250.8 612.6 L404.7 552.1 L558.6 464.6 L712.5 315.1" fill="none" stroke="#4e52d2" stroke-width="4.2" stroke-linejoin="round" stroke-linecap="round"/><rect x="88.5" y="628.1" width="16.8" height="16.8" fill="#4e52d2"/><rect x="242.4" y="604.2" width="16.8" height="16.8" fill="#4e52d2"/><rect x="396.3" y="543.7" width="16.8" height="16.8" fill="#4e52d2"/><rect x="550.2" y="456.2" width="16.8" height="16.8" fill="#4e52d2"/><rect x="704.1" y="306.7" width="16.8" height="16.8" fill="#4e52d2"/><path d="M96.9 638.1 L250.8 614.2 L404.7 556.9 L558.6 472.6 L712.5 327.8" fill="none" stroke="#f17c72" stroke-width="4.2" stroke-linejoin="round" stroke-linecap="round"/><path d="M96.9 629.1 L105.5 645.6 H88.3 Z" fill="#f17c72"/><path d="M250.8 605.2 L259.4 621.7 H242.2 Z" fill="#f17c72"/><path d="M404.7 547.9 L413.3 564.4 H396.1 Z" fill="#f17c72"/><path d="M558.6 463.6 L567.2 480.1 H550.0 Z" fill="#f17c72"/><path d="M712.5 318.8 L721.1 335.3 H703.9 Z" fill="#f17c72"/><path d="M96.9 639.7 L250.8 617.4 L404.7 568.1 L558.6 496.5 L712.5 375.5" fill="none" stroke="#f4b400" stroke-width="4.2" stroke-linejoin="round" stroke-linecap="round"/><rect x="88.5" y="631.3" width="16.8" height="16.8" fill="#f4b400"/><rect x="242.4" y="609.0" width="16.8" height="16.8" fill="#f4b400"/><rect x="396.3" y="559.7" width="16.8" height="16.8" fill="#f4b400"/><rect x="550.2" y="488.1" width="16.8" height="16.8" fill="#f4b400"/><rect x="704.1" y="367.1" width="16.8" height="16.8" fill="#f4b400"/><path d="M96.9 644.4 L250.8 636.5 L404.7 615.8 L558.6 585.6 L712.5 533.1" fill="none" stroke="#2eb5aa" stroke-width="4.2" stroke-linejoin="round" stroke-linecap="round"/><rect x="88.5" y="636.0" width="16.8" height="16.8" fill="#2eb5aa"/><rect x="242.4" y="628.1" width="16.8" height="16.8" fill="#2eb5aa"/><rect x="396.3" y="607.4" width="16.8" height="16.8" fill="#2eb5aa"/><rect x="550.2" y="577.2" width="16.8" height="16.8" fill="#2eb5aa"/><rect x="704.1" y="524.7" width="16.8" height="16.8" fill="#2eb5aa"/></svg>
<div class="t" style="left:2102.54px;top:1507.00px;font-size:21.20px;color:#000;font-weight:700;transform:scaleX(1.1745);-webkit-text-stroke:0.40px #000;">2026</div>
<div class="t" style="left:2256.42px;top:1507.00px;font-size:21.20px;color:#000;font-weight:700;transform:scaleX(1.1745);-webkit-text-stroke:0.40px #000;">2027</div>
<div class="t" style="left:2410.30px;top:1507.00px;font-size:21.20px;color:#000;font-weight:700;transform:scaleX(1.1745);-webkit-text-stroke:0.40px #000;">2028</div>
<div class="t" style="left:2564.18px;top:1507.00px;font-size:21.20px;color:#000;font-weight:700;transform:scaleX(1.1745);-webkit-text-stroke:0.40px #000;">2029</div>
<div class="t" style="left:2718.06px;top:1507.00px;font-size:21.20px;color:#000;font-weight:700;transform:scaleX(1.1745);-webkit-text-stroke:0.40px #000;">2030</div>
<div class="r" style="left:2860.30px;top:278.00px;width:31.00px;height:1392.00px;background:#0a0a0a;"></div>
<div class="r" style="left:2862.80px;top:278.00px;width:28.20px;height:1392.00px;background:#141414;border-radius:14px 14px 14px 14px;"></div>
<svg class="r" style="left:2867.00px;top:284.00px;" width="18" height="14" viewBox="0 0 18 14"><path d="M9 2.2 L15.8 11.8 H2.2 Z" fill="#9c9c9c" stroke="#9c9c9c" stroke-width="1.6" stroke-linejoin="round"/></svg>
<div class="r" style="left:2870.00px;top:304.00px;width:12.00px;height:559.50px;background:#9c9c9c;border-radius:6px;"></div>
<svg class="r" style="left:2867.00px;top:1652.00px;" width="18" height="14" viewBox="0 0 18 14"><path d="M9 11.8 L15.8 2.2 H2.2 Z" fill="#9c9c9c" stroke="#9c9c9c" stroke-width="1.6" stroke-linejoin="round"/></svg>
<div class="r" style="left:1868.00px;top:1669.50px;width:168.00px;height:5.50px;background:#fff;"></div>
<div class="r" style="left:11.00px;top:1670.00px;width:1864.80px;height:48.30px;background:#0a0a0a;border-radius:0 5px 0 0;"></div>
<div class="r" style="left:2027.40px;top:1670.00px;width:863.60px;height:48.30px;background:#0a0a0a;border-radius:5px 0 0 0;"></div>
<div class="r" style="left:1870.00px;top:1690.00px;width:165.00px;height:28.30px;background:#0a0a0a;"></div>
<svg class="r" style="left:42.00px;top:1682.00px;" width="18" height="22" viewBox="0 0 18 22"><path d="M12 4.2 L4.9 11 L12 17.8" fill="none" stroke="#d0d0d0" stroke-width="1.7" stroke-linecap="round" stroke-linejoin="round"/></svg>
<svg class="r" style="left:90.00px;top:1682.00px;" width="18" height="22" viewBox="0 0 18 22"><path d="M6 4.2 L13.1 11 L6 17.8" fill="none" stroke="#d0d0d0" stroke-width="1.7" stroke-linecap="round" stroke-linejoin="round"/></svg>
<svg class="r" style="left:136.00px;top:1688.00px;" width="22" height="10" viewBox="0 0 22 10"><circle cx="4" cy="4.5" r="2.35" fill="#d4d4d4"/><circle cx="10.2" cy="4.5" r="2.35" fill="#d4d4d4"/><circle cx="16.4" cy="4.5" r="2.35" fill="#d4d4d4"/></svg>
<div class="r" style="left:177.00px;top:1676.20px;width:88.80px;height:35.40px;background:#fff36d;border-radius:7px;"></div>
<div class="t" style="left:190.20px;top:1686.00px;font-size:20.60px;color:#141414;transform:scaleX(0.9909);">Payroll</div>
<div class="r" style="left:279.20px;top:1676.20px;width:86.80px;height:35.40px;background:#fff36d;border-radius:7px;"></div>
<div class="t" style="left:292.40px;top:1686.00px;font-size:20.60px;color:#141414;transform:scaleX(0.8649);">CAPEX</div>
<div class="r" style="left:379.00px;top:1676.20px;width:113.00px;height:35.40px;background:#fff36d;border-radius:7px;"></div>
<div class="t" style="left:392.20px;top:1686.00px;font-size:20.60px;color:#141414;transform:scaleX(0.9950);">CapTable</div>
<div class="r" style="left:505.30px;top:1676.20px;width:89.30px;height:35.40px;background:#fff36d;border-radius:7px;"></div>
<div class="t" style="left:518.50px;top:1686.00px;font-size:20.60px;color:#141414;transform:scaleX(0.9809);">Capital</div>
<div class="r" style="left:608.40px;top:1676.20px;width:41.40px;height:35.40px;background:#4bb3e8;border-radius:7px;"></div>
<div class="t" style="left:619.37px;top:1686.00px;font-size:20.60px;color:#141414;">IS</div>
<div class="r" style="left:663.00px;top:1676.20px;width:47.60px;height:35.40px;background:#4bb3e8;border-radius:7px;"></div>
<div class="t" style="left:673.07px;top:1686.00px;font-size:20.60px;color:#141414;">CF</div>
<div class="r" style="left:724.40px;top:1676.20px;width:47.10px;height:35.40px;background:#4bb3e8;border-radius:7px;"></div>
<div class="t" style="left:734.21px;top:1686.00px;font-size:20.60px;color:#141414;">BS</div>
<div class="r" style="left:785.30px;top:1676.20px;width:114.50px;height:35.40px;background:#4bb3e8;border-radius:7px;"></div>
<div class="t" style="left:798.50px;top:1686.00px;font-size:20.60px;color:#141414;transform:scaleX(0.9617);">Scenarios</div>
<div class="r" style="left:913.00px;top:1676.20px;width:114.60px;height:35.40px;background:#4bb3e8;border-radius:7px;"></div>
<div class="t" style="left:926.20px;top:1686.00px;font-size:20.60px;color:#141414;transform:scaleX(1.0453);">Valuation</div>
<div class="r" style="left:1041.00px;top:1676.20px;width:114.00px;height:35.40px;background:#4bb3e8;border-radius:7px;"></div>
<div class="t" style="left:1054.20px;top:1686.00px;font-size:20.60px;color:#141414;transform:scaleX(0.9940);">Summary</div>
<div class="r" style="left:1168.00px;top:1676.20px;width:47.50px;height:35.40px;background:#4bb3e8;border-radius:7px;"></div>
<div class="t" style="left:1178.01px;top:1686.00px;font-size:20.60px;color:#141414;">BE</div>
<div class="r" style="left:1229.30px;top:1676.20px;width:71.40px;height:35.40px;background:#4bb3e8;border-radius:7px;"></div>
<div class="t" style="left:1242.50px;top:1686.00px;font-size:20.60px;color:#141414;transform:scaleX(0.8738);">ROIC</div>
<div class="r" style="left:1314.00px;top:1676.20px;width:85.00px;height:35.40px;background:#4bb3e8;border-radius:7px;"></div>
<div class="t" style="left:1327.20px;top:1686.00px;font-size:20.60px;color:#141414;transform:scaleX(0.9659);">Charts</div>
<div class="r" style="left:1412.30px;top:1676.20px;width:63.30px;height:35.40px;background:#4bb3e8;border-radius:7px;"></div>
<div class="t" style="left:1425.50px;top:1686.00px;font-size:20.60px;color:#141414;transform:scaleX(0.8481);">KPIs</div>
<div class="r" style="left:1489.00px;top:1676.20px;width:168.50px;height:35.40px;background:#4bb3e8;border-radius:7px;"></div>
<div class="t" style="left:1502.20px;top:1686.00px;font-size:20.60px;color:#141414;transform:scaleX(0.9622);">Sources &amp; Uses</div>
<div class="r" style="left:1671.30px;top:1676.20px;width:82.40px;height:35.40px;background:#4bb3e8;border-radius:7px;"></div>
<div class="t" style="left:1684.50px;top:1686.00px;font-size:20.60px;color:#141414;transform:scaleX(0.9592);">Ratios</div>
<div class="r" style="left:1767.00px;top:1676.20px;width:95.80px;height:35.40px;background:#4bb3e8;border-radius:7px;"></div>
<div class="t" style="left:1780.20px;top:1686.00px;font-size:20.60px;color:#141414;transform:scaleX(1.0102);">DuPont</div>
<div class="r" style="left:271.70px;top:1680.50px;width:1.30px;height:27.00px;background:#505050;"></div>
<div class="r" style="left:372.00px;top:1680.50px;width:1.30px;height:27.00px;background:#505050;"></div>
<div class="r" style="left:497.80px;top:1680.50px;width:1.30px;height:27.00px;background:#505050;"></div>
<div class="r" style="left:600.90px;top:1680.50px;width:1.30px;height:27.00px;background:#505050;"></div>
<div class="r" style="left:656.10px;top:1680.50px;width:1.30px;height:27.00px;background:#505050;"></div>
<div class="r" style="left:716.90px;top:1680.50px;width:1.30px;height:27.00px;background:#505050;"></div>
<div class="r" style="left:777.80px;top:1680.50px;width:1.30px;height:27.00px;background:#505050;"></div>
<div class="r" style="left:905.70px;top:1680.50px;width:1.30px;height:27.00px;background:#505050;"></div>
<div class="r" style="left:1033.40px;top:1680.50px;width:1.30px;height:27.00px;background:#505050;"></div>
<div class="r" style="left:1160.90px;top:1680.50px;width:1.30px;height:27.00px;background:#505050;"></div>
<div class="r" style="left:1221.80px;top:1680.50px;width:1.30px;height:27.00px;background:#505050;"></div>
<div class="r" style="left:1307.00px;top:1680.50px;width:1.30px;height:27.00px;background:#505050;"></div>
<div class="r" style="left:1404.80px;top:1680.50px;width:1.30px;height:27.00px;background:#505050;"></div>
<div class="r" style="left:1481.40px;top:1680.50px;width:1.30px;height:27.00px;background:#505050;"></div>
<div class="r" style="left:1663.80px;top:1680.50px;width:1.30px;height:27.00px;background:#505050;"></div>
<div class="r" style="left:1760.00px;top:1680.50px;width:1.30px;height:27.00px;background:#505050;"></div>
<div class="r" style="left:1869.10px;top:1680.50px;width:1.30px;height:27.00px;background:#505050;"></div>
<div class="r" style="left:2032.90px;top:1680.50px;width:1.30px;height:27.00px;background:#505050;"></div>
<div class="r" style="left:1875.80px;top:1669.50px;width:151.60px;height:42.20px;background:linear-gradient(#ffffff 0%,#f4f9fd 12%,#d4e8f8 40%,#c2dff5 100%);border-radius:0 0 8px 8px;"></div>
<div class="t" style="left:1888.20px;top:1681.00px;font-size:20.90px;color:#222;transform:scaleX(0.9831);">Top_Revenue</div>
<div class="r" style="left:1888.20px;top:1704.90px;width:126.80px;height:3.10px;background:#1e7d4a;"></div>
<div class="r" style="left:2040.00px;top:1676.20px;width:32.00px;height:35.40px;background:#4bb3e8;border-radius:7px 0 0 7px;"></div>
<div class="t" style="left:2054.00px;top:1686.00px;font-size:20.60px;color:#141414;width:18px;overflow:hidden;">To</div>
<svg class="r" style="left:2085.00px;top:1688.00px;" width="22" height="10" viewBox="0 0 22 10"><circle cx="4" cy="4.5" r="2.35" fill="#d4d4d4"/><circle cx="10.2" cy="4.5" r="2.35" fill="#d4d4d4"/><circle cx="16.4" cy="4.5" r="2.35" fill="#d4d4d4"/></svg>
<svg class="r" style="left:2133.00px;top:1682.00px;" width="20" height="20" viewBox="0 0 20 20"><path d="M10.3 1.5 V19 M1.5 10.3 H19" stroke="#e0e0e0" stroke-width="1.6"/></svg>
<svg class="r" style="left:2186.00px;top:1682.00px;" width="10" height="24" viewBox="0 0 10 24"><rect x="4.2" y="5.6" width="3.2" height="3.2" fill="#d8d8d8"/><rect x="4.2" y="11.1" width="3.2" height="3.2" fill="#d8d8d8"/><rect x="4.2" y="16.7" width="3.2" height="3.2" fill="#d8d8d8"/></svg>
<div class="r" style="left:2216.40px;top:1680.60px;width:643.40px;height:25.60px;background:#141414;border-radius:13px;"></div>
<svg class="r" style="left:2222.00px;top:1685.00px;" width="14" height="16" viewBox="0 0 14 16"><path d="M2.2 8 L11.5 1.8 V14.2 Z" fill="#9c9c9c" stroke="#9c9c9c" stroke-width="1.4" stroke-linejoin="round"/></svg>
<svg class="r" style="left:2840.00px;top:1685.00px;" width="14" height="16" viewBox="0 0 14 16"><path d="M11.8 8 L2.5 1.8 V14.2 Z" fill="#9c9c9c" stroke="#9c9c9c" stroke-width="1.4" stroke-linejoin="round"/></svg>
<div class="r" style="left:2242.00px;top:1687.00px;width:512.40px;height:12.60px;background:#9c9c9c;border-radius:6.3px;"></div>
<div class="r" style="left:11.00px;top:1718.30px;width:2880.00px;height:32.70px;background:#141414;"></div>
<div class="r" style="left:11.00px;top:1717.80px;width:2880.00px;height:1.00px;background:#2e2e2e;"></div>
<div class="t" style="left:27.40px;top:1727.00px;font-size:16.20px;color:#fff;transform:scaleX(0.9011);">Ready</div>
<svg class="r" style="left:98.00px;top:1724.00px;" width="26" height="22" viewBox="0 0 26 22"><path d="M2 2.5 H22 V7" fill="none" stroke="#e6e6e6" stroke-width="1.6"/><path d="M2 2.5 V19.5 H10" fill="none" stroke="#e6e6e6" stroke-width="1.6"/><path d="M5 6.8 H13 M5 10.8 H9.5 M5 14.8 H8.5" stroke="#e6e6e6" stroke-width="1.5"/><circle cx="17" cy="14.2" r="6" fill="none" stroke="#e6e6e6" stroke-width="1.6"/><circle cx="17" cy="14.2" r="2.6" fill="#e6e6e6"/></svg>
<svg class="r" style="left:144.00px;top:1722.00px;" width="26" height="26" viewBox="0 0 26 26"><circle cx="12" cy="4" r="2.6" fill="none" stroke="#e6e6e6" stroke-width="1.4"/><path d="M3 7.5 Q12 11.5 21 7.5 M8.5 10 V15 L5.5 23.5 M15.5 10 V14 M12 16 L9.5 22" fill="none" stroke="#e6e6e6" stroke-width="1.5" stroke-linecap="round"/><path d="M14.5 15.5 L23 24 M23 15.5 L14.5 24" stroke="#e6e6e6" stroke-width="1.5"/></svg>
<div class="t" style="left:173.20px;top:1728.00px;font-size:15.60px;color:#fff;font-weight:700;transform:scaleX(1.0064);-webkit-text-stroke:0.30px #fff;">Accessibility: Investigate</div>
<div class="r" style="left:2445.60px;top:1718.80px;width:59.00px;height:32.20px;background:#262626;"></div>
<svg class="r" style="left:2464.00px;top:1724.50px;" width="20" height="20" viewBox="0 0 20 20"><path d="M1 1 H19 V19 H1 Z M1 7 H19 M1 13 H19 M7 1 V19 M13 1 V19" fill="none" stroke="#f0f0f0" stroke-width="1.5"/></svg>
<svg class="r" style="left:2524.00px;top:1724.50px;" width="23" height="20" viewBox="0 0 23 20"><path d="M1 1 H21 V19 H1 Z" fill="none" stroke="#f0f0f0" stroke-width="1.5"/><path d="M5.5 5 H16.5 V15 H5.5 Z M8 8 H14 M8 10.5 H14 M8 13 H14" fill="none" stroke="#f0f0f0" stroke-width="1.3"/></svg>
<svg class="r" style="left:2584.00px;top:1724.50px;" width="23" height="20" viewBox="0 0 23 20"><path d="M1 1 H21.5 V19 H1 Z M1 12 H15 V1 M8 1 V12" fill="none" stroke="#f0f0f0" stroke-width="1.6"/></svg>
<div class="r" style="left:2633.20px;top:1734.10px;width:11.40px;height:1.40px;background:#f0f0f0;"></div>
<div class="r" style="left:2653.00px;top:1733.90px;width:148.00px;height:1.70px;background:#b0b0b0;"></div>
<div class="r" style="left:2726.30px;top:1730.60px;width:1.50px;height:8.70px;background:#b0b0b0;"></div>
<div class="r" style="left:2733.00px;top:1726.00px;width:8.00px;height:17.20px;background:#b8b8b8;border-radius:1.5px;"></div>
<svg class="r" style="left:2808.00px;top:1728.30px;" width="13" height="13" viewBox="0 0 13 13"><path d="M6.5 0.5 V12.5 M0.5 6.5 H12.5" stroke="#f0f0f0" stroke-width="1.4"/></svg>
<div class="t" style="left:2840.50px;top:1728.00px;font-size:15.80px;color:#fff;transform:scaleX(0.9501);">140%</div>
</body></html>
